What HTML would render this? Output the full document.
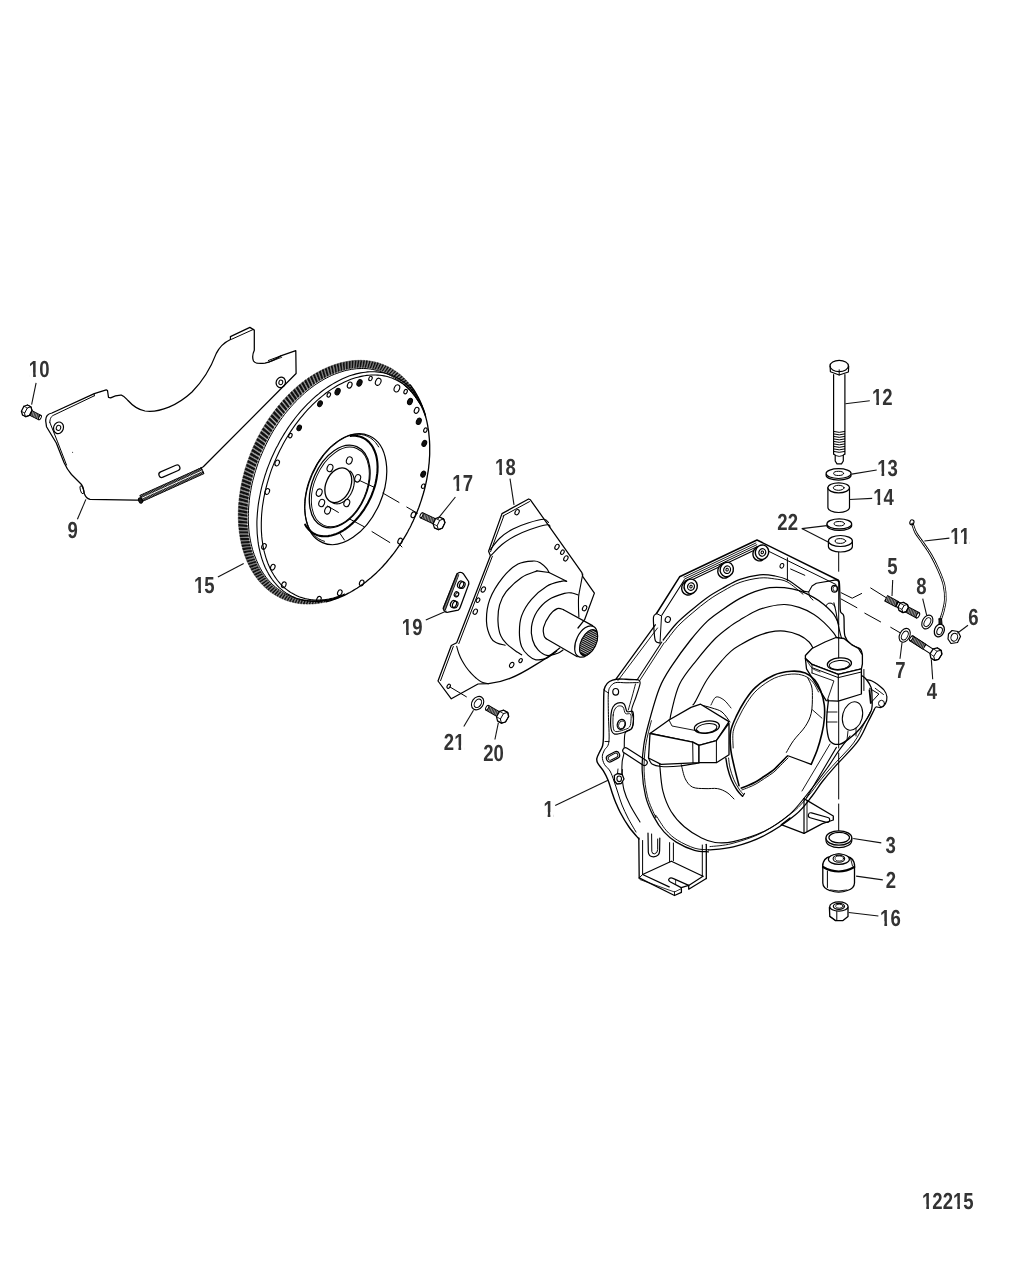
<!DOCTYPE html>
<html><head><meta charset="utf-8"><style>
html,body{margin:0;padding:0;background:#fff;}
svg{display:block;}
</style></head><body>
<svg width="1013" height="1275" viewBox="0 0 1013 1275">
<rect width="1013" height="1275" fill="#fff"/>
<g stroke="#000" fill="none" stroke-linejoin="round" stroke-linecap="round">
<path d="M46,423 C45,418 47,414 52,413 L94.3,393.6 L106.2,389.8 L107.5,390.5 L108.5,397.4 L110.6,397.9 C113,396.5 116,395 121.4,395.2 C124,396 126,398.5 128,400.5 C132,405 137,409.5 145,411 C160,413 178,405 192,392 C202,382 210,370 216.3,353.4 C219,348 223,343 230.5,339.5 L230.4,336.6 L249.9,327.4 L254.3,330.1 L254.3,350.2 C252.5,354 252.3,358 253.5,361 C255,363.5 258,364 265,363.2 C270,362 276,359 281.4,355.6 L295.8,350.6 L296.1,373.5 L203.3,466.8 L139.5,500 L135.5,500 L90,499.4 C87,498.5 85.5,497 84.5,494 C83.5,490 83.5,487 81.5,484.5 L71.5,474.5 C68,470.5 66,467 64,462.5 L56.3,443 L46.5,426.7 Z" stroke-width="1.25" fill="none" />
<path d="M49.8,422.3 C50,418 51.5,416 54,415 L94.3,395.8" stroke-width="1.0" fill="none" />
<path d="M49.8,422.3 L57.6,441.9 L66.5,465" stroke-width="1.0" fill="none" />
<line x1="94.3" y1="393.6" x2="94.3" y2="395.8" stroke-width="0.9" />
<line x1="231.5" y1="339.3" x2="253.2" y2="329.5" stroke-width="1.0" />
<line x1="268.4" y1="360.5" x2="281.4" y2="355.6" stroke-width="1.0" />
<path d="M268.4,362.3 L281.8,357.3" stroke-width="0.8" fill="none" />
<ellipse cx="81.9" cy="489.7" rx="1.6" ry="4.2" stroke-width="0.9" fill="none" transform="rotate(-15 81.9 489.7)" />
<ellipse cx="58.5" cy="427.8" rx="4.9" ry="5.9" stroke-width="1.2" fill="none" transform="rotate(20 58.5 427.8)" />
<ellipse cx="58.5" cy="427.8" rx="2.2" ry="2.6" stroke-width="1.0" fill="none" transform="rotate(20 58.5 427.8)" />
<ellipse cx="280.8" cy="382.4" rx="4.6" ry="5.3" stroke-width="1.2" fill="none" transform="rotate(20 280.8 382.4)" />
<ellipse cx="280.8" cy="382.4" rx="1.9" ry="2.3" stroke-width="1.0" fill="none" transform="rotate(20 280.8 382.4)" />
<g transform="rotate(-23.5 169.4 471.2)"><rect x="158.2" y="468.3" width="22.4" height="5.8" rx="2.9" stroke-width="1.2" fill="none"/></g>
<polygon points="140.2,495.3 201.3,467.7 204,473.6 142.9,501.2" stroke-width="1.0" fill="#1a1a1a" />
<line x1="142.3" y1="498" x2="201.9" y2="471" stroke-width="1.0" stroke="#fff"/>
<line x1="141.5" y1="495.3" x2="142.7" y2="496.5" stroke-width="0.45" stroke="#fff"/>
<line x1="143" y1="498.7" x2="144.3" y2="499.9" stroke-width="0.45" stroke="#fff"/>
<line x1="143" y1="494.7" x2="144.2" y2="495.9" stroke-width="0.45" stroke="#fff"/>
<line x1="144.5" y1="498" x2="145.7" y2="499.3" stroke-width="0.45" stroke="#fff"/>
<line x1="144.4" y1="494" x2="145.6" y2="495.2" stroke-width="0.45" stroke="#fff"/>
<line x1="146" y1="497.4" x2="147.2" y2="498.6" stroke-width="0.45" stroke="#fff"/>
<line x1="145.9" y1="493.4" x2="147.1" y2="494.6" stroke-width="0.45" stroke="#fff"/>
<line x1="147.4" y1="496.7" x2="148.6" y2="497.9" stroke-width="0.45" stroke="#fff"/>
<line x1="147.4" y1="492.7" x2="148.6" y2="493.9" stroke-width="0.45" stroke="#fff"/>
<line x1="148.9" y1="496.1" x2="150.1" y2="497.3" stroke-width="0.45" stroke="#fff"/>
<line x1="148.8" y1="492" x2="150" y2="493.3" stroke-width="0.45" stroke="#fff"/>
<line x1="150.3" y1="495.4" x2="151.5" y2="496.6" stroke-width="0.45" stroke="#fff"/>
<line x1="150.3" y1="491.4" x2="151.5" y2="492.6" stroke-width="0.45" stroke="#fff"/>
<line x1="151.8" y1="494.8" x2="153" y2="496" stroke-width="0.45" stroke="#fff"/>
<line x1="151.7" y1="490.7" x2="152.9" y2="491.9" stroke-width="0.45" stroke="#fff"/>
<line x1="153.3" y1="494.1" x2="154.5" y2="495.3" stroke-width="0.45" stroke="#fff"/>
<line x1="153.2" y1="490.1" x2="154.4" y2="491.3" stroke-width="0.45" stroke="#fff"/>
<line x1="154.7" y1="493.4" x2="155.9" y2="494.7" stroke-width="0.45" stroke="#fff"/>
<line x1="154.6" y1="489.4" x2="155.9" y2="490.6" stroke-width="0.45" stroke="#fff"/>
<line x1="156.2" y1="492.8" x2="157.4" y2="494" stroke-width="0.45" stroke="#fff"/>
<line x1="156.1" y1="488.7" x2="157.3" y2="490" stroke-width="0.45" stroke="#fff"/>
<line x1="157.6" y1="492.1" x2="158.8" y2="493.3" stroke-width="0.45" stroke="#fff"/>
<line x1="157.6" y1="488.1" x2="158.8" y2="489.3" stroke-width="0.45" stroke="#fff"/>
<line x1="159.1" y1="491.5" x2="160.3" y2="492.7" stroke-width="0.45" stroke="#fff"/>
<line x1="159" y1="487.4" x2="160.2" y2="488.6" stroke-width="0.45" stroke="#fff"/>
<line x1="160.5" y1="490.8" x2="161.7" y2="492" stroke-width="0.45" stroke="#fff"/>
<line x1="160.5" y1="486.8" x2="161.7" y2="488" stroke-width="0.45" stroke="#fff"/>
<line x1="162" y1="490.1" x2="163.2" y2="491.4" stroke-width="0.45" stroke="#fff"/>
<line x1="161.9" y1="486.1" x2="163.1" y2="487.3" stroke-width="0.45" stroke="#fff"/>
<line x1="163.5" y1="489.5" x2="164.7" y2="490.7" stroke-width="0.45" stroke="#fff"/>
<line x1="163.4" y1="485.5" x2="164.6" y2="486.7" stroke-width="0.45" stroke="#fff"/>
<line x1="164.9" y1="488.8" x2="166.1" y2="490" stroke-width="0.45" stroke="#fff"/>
<line x1="164.9" y1="484.8" x2="166.1" y2="486" stroke-width="0.45" stroke="#fff"/>
<line x1="166.4" y1="488.2" x2="167.6" y2="489.4" stroke-width="0.45" stroke="#fff"/>
<line x1="166.3" y1="484.1" x2="167.5" y2="485.4" stroke-width="0.45" stroke="#fff"/>
<line x1="167.8" y1="487.5" x2="169" y2="488.7" stroke-width="0.45" stroke="#fff"/>
<line x1="167.8" y1="483.5" x2="169" y2="484.7" stroke-width="0.45" stroke="#fff"/>
<line x1="169.3" y1="486.9" x2="170.5" y2="488.1" stroke-width="0.45" stroke="#fff"/>
<line x1="169.2" y1="482.8" x2="170.4" y2="484" stroke-width="0.45" stroke="#fff"/>
<line x1="170.8" y1="486.2" x2="172" y2="487.4" stroke-width="0.45" stroke="#fff"/>
<line x1="170.7" y1="482.2" x2="171.9" y2="483.4" stroke-width="0.45" stroke="#fff"/>
<line x1="172.2" y1="485.5" x2="173.4" y2="486.7" stroke-width="0.45" stroke="#fff"/>
<line x1="172.1" y1="481.5" x2="173.3" y2="482.7" stroke-width="0.45" stroke="#fff"/>
<line x1="173.7" y1="484.9" x2="174.9" y2="486.1" stroke-width="0.45" stroke="#fff"/>
<line x1="173.6" y1="480.8" x2="174.8" y2="482.1" stroke-width="0.45" stroke="#fff"/>
<line x1="175.1" y1="484.2" x2="176.3" y2="485.4" stroke-width="0.45" stroke="#fff"/>
<line x1="175.1" y1="480.2" x2="176.3" y2="481.4" stroke-width="0.45" stroke="#fff"/>
<line x1="176.6" y1="483.6" x2="177.8" y2="484.8" stroke-width="0.45" stroke="#fff"/>
<line x1="176.5" y1="479.5" x2="177.7" y2="480.7" stroke-width="0.45" stroke="#fff"/>
<line x1="178" y1="482.9" x2="179.2" y2="484.1" stroke-width="0.45" stroke="#fff"/>
<line x1="178" y1="478.9" x2="179.2" y2="480.1" stroke-width="0.45" stroke="#fff"/>
<line x1="179.5" y1="482.2" x2="180.7" y2="483.5" stroke-width="0.45" stroke="#fff"/>
<line x1="179.4" y1="478.2" x2="180.6" y2="479.4" stroke-width="0.45" stroke="#fff"/>
<line x1="181" y1="481.6" x2="182.2" y2="482.8" stroke-width="0.45" stroke="#fff"/>
<line x1="180.9" y1="477.6" x2="182.1" y2="478.8" stroke-width="0.45" stroke="#fff"/>
<line x1="182.4" y1="480.9" x2="183.6" y2="482.1" stroke-width="0.45" stroke="#fff"/>
<line x1="182.4" y1="476.9" x2="183.6" y2="478.1" stroke-width="0.45" stroke="#fff"/>
<line x1="183.9" y1="480.3" x2="185.1" y2="481.5" stroke-width="0.45" stroke="#fff"/>
<line x1="183.8" y1="476.2" x2="185" y2="477.4" stroke-width="0.45" stroke="#fff"/>
<line x1="185.3" y1="479.6" x2="186.5" y2="480.8" stroke-width="0.45" stroke="#fff"/>
<line x1="185.3" y1="475.6" x2="186.5" y2="476.8" stroke-width="0.45" stroke="#fff"/>
<line x1="186.8" y1="478.9" x2="188" y2="480.2" stroke-width="0.45" stroke="#fff"/>
<line x1="186.7" y1="474.9" x2="187.9" y2="476.1" stroke-width="0.45" stroke="#fff"/>
<line x1="188.2" y1="478.3" x2="189.5" y2="479.5" stroke-width="0.45" stroke="#fff"/>
<line x1="188.2" y1="474.3" x2="189.4" y2="475.5" stroke-width="0.45" stroke="#fff"/>
<line x1="189.7" y1="477.6" x2="190.9" y2="478.8" stroke-width="0.45" stroke="#fff"/>
<line x1="189.6" y1="473.6" x2="190.8" y2="474.8" stroke-width="0.45" stroke="#fff"/>
<line x1="191.2" y1="477" x2="192.4" y2="478.2" stroke-width="0.45" stroke="#fff"/>
<line x1="191.1" y1="472.9" x2="192.3" y2="474.2" stroke-width="0.45" stroke="#fff"/>
<line x1="192.6" y1="476.3" x2="193.8" y2="477.5" stroke-width="0.45" stroke="#fff"/>
<line x1="192.6" y1="472.3" x2="193.8" y2="473.5" stroke-width="0.45" stroke="#fff"/>
<line x1="194.1" y1="475.7" x2="195.3" y2="476.9" stroke-width="0.45" stroke="#fff"/>
<line x1="194" y1="471.6" x2="195.2" y2="472.8" stroke-width="0.45" stroke="#fff"/>
<line x1="195.5" y1="475" x2="196.7" y2="476.2" stroke-width="0.45" stroke="#fff"/>
<line x1="195.5" y1="471" x2="196.7" y2="472.2" stroke-width="0.45" stroke="#fff"/>
<line x1="197" y1="474.3" x2="198.2" y2="475.5" stroke-width="0.45" stroke="#fff"/>
<line x1="196.9" y1="470.3" x2="198.1" y2="471.5" stroke-width="0.45" stroke="#fff"/>
<line x1="198.5" y1="473.7" x2="199.7" y2="474.9" stroke-width="0.45" stroke="#fff"/>
<line x1="198.4" y1="469.6" x2="199.6" y2="470.9" stroke-width="0.45" stroke="#fff"/>
<line x1="199.9" y1="473" x2="201.1" y2="474.2" stroke-width="0.45" stroke="#fff"/>
<line x1="199.8" y1="469" x2="201.1" y2="470.2" stroke-width="0.45" stroke="#fff"/>
<line x1="201.4" y1="472.4" x2="202.6" y2="473.6" stroke-width="0.45" stroke="#fff"/>
<ellipse cx="140.5" cy="500.5" rx="1.8" ry="2.8" stroke-width="1.0" fill="#1a1a1a" transform="rotate(-24 140.5 500.5)" />
<circle cx="72.6" cy="452.2" r="0.5" fill="#000" stroke="none"/>
<polygon points="27.3,413.9 38.9,419.8 41.1,415.5 29.5,409.6" stroke-width="1.1" fill="#111" />
<line x1="28.9" y1="414" x2="29.6" y2="410.3" stroke-width="0.55" stroke="#fff"/>
<line x1="30.3" y1="414.7" x2="31.1" y2="411.1" stroke-width="0.55" stroke="#fff"/>
<line x1="31.8" y1="415.5" x2="32.5" y2="411.8" stroke-width="0.55" stroke="#fff"/>
<line x1="33.2" y1="416.2" x2="33.9" y2="412.5" stroke-width="0.55" stroke="#fff"/>
<line x1="34.6" y1="416.9" x2="35.4" y2="413.2" stroke-width="0.55" stroke="#fff"/>
<line x1="36" y1="417.6" x2="36.8" y2="414" stroke-width="0.55" stroke="#fff"/>
<line x1="37.5" y1="418.4" x2="38.2" y2="414.7" stroke-width="0.55" stroke="#fff"/>
<ellipse cx="40" cy="417.6" rx="1.1" ry="2.4" stroke-width="1.0" fill="#fff" transform="rotate(26.9 40 417.6)" />
<polygon points="21.4,411.3 23.9,406.3 27.5,405 30.9,406.7 32,410.4 29.5,415.4 25.9,416.7 22.5,415" stroke-width="1.25" fill="#fff" />
<polygon points="25.8,416.7 29.5,415.4 32,410.4 30.9,406.7 27.3,408 24.7,413" stroke-width="1.0" fill="none" />
<line x1="25.8" y1="416.7" x2="22.5" y2="415" stroke-width="0.8" />
<line x1="30.9" y1="406.7" x2="27.5" y2="405" stroke-width="0.8" />
<line x1="27.3" y1="408" x2="23.9" y2="406.3" stroke-width="0.8" />
<line x1="24.7" y1="413" x2="21.4" y2="411.3" stroke-width="0.8" />
<path d="M334.2,599.4L332.5,600L333.5,599L335.2,598.6ZM331.2,600.4L329.4,601L330.5,599.7L332.1,599.3ZM328.2,601.3L326.4,601.8L327.4,600.2L329,599.9ZM325.2,602L323.4,602.4L324.4,600.6L326,600.4ZM322.2,602.7L320.5,603L321.4,600.9L323,600.7ZM319.3,603.2L317.5,603.4L318.4,601.1L320,601ZM316.3,603.6L314.5,603.8L315.5,601.2L317.1,601.1ZM313.3,603.9L311.6,604L312.7,601.2L314.2,601.2ZM310.4,604L308.7,604.1L309.9,601.1L311.4,601.2ZM307.5,604.1L305.8,604L307.1,600.9L308.6,601ZM304.7,604L302.9,603.9L304.3,600.6L305.8,600.8ZM301.8,603.8L300.1,603.6L301.7,600.1L303.1,600.4ZM299,603.5L297.3,603.2L299,599.6L300.5,599.9ZM296.2,603L294.5,602.7L296.5,598.9L297.9,599.3ZM293.5,602.4L291.8,602L294,598.2L295.3,598.6ZM290.8,601.8L289.1,601.3L291.5,597.3L292.9,597.8ZM288.1,601L286.5,600.4L289.1,596.4L290.4,596.9ZM285.5,600.1L283.9,599.4L286.8,595.3L288.1,595.9ZM282.9,599L281.4,598.3L284.5,594.1L285.8,594.8ZM280.4,597.9L278.9,597.1L282.3,592.9L283.5,593.6ZM277.9,596.6L276.4,595.8L280.1,591.5L281.3,592.3ZM275.5,595.2L274.1,594.3L278.1,590.1L279.2,590.9ZM273.2,593.8L271.7,592.8L276,588.6L277.2,589.4ZM270.9,592.2L269.5,591.1L274.1,587L275.2,587.9ZM268.7,590.5L267.3,589.3L272.1,585.3L273.2,586.3ZM266.5,588.7L265.2,587.4L270.3,583.5L271.4,584.5ZM264.4,586.7L263.1,585.5L268.5,581.6L269.5,582.7ZM262.4,584.7L261.1,583.4L266.8,579.7L267.8,580.8ZM260.4,582.6L259.2,581.2L265.2,577.6L266.1,578.8ZM258.5,580.4L257.4,578.9L263.6,575.5L264.5,576.8ZM256.7,578.1L255.6,576.5L262.1,573.3L263,574.6ZM255,575.7L253.9,574.1L260.7,571L261.5,572.4ZM253.3,573.2L252.3,571.5L259.3,568.6L260.1,570ZM251.7,570.6L250.8,568.8L258,566.2L258.8,567.6ZM250.3,567.9L249.3,566.1L256.8,563.7L257.5,565.2ZM248.8,565.1L248,563.3L255.7,561.1L256.4,562.6ZM247.5,562.3L246.7,560.4L254.5,558.4L255.2,560ZM246.3,559.4L245.5,557.4L253.5,555.7L254.1,557.3ZM245.1,556.4L244.4,554.4L252.5,552.9L253.1,554.6ZM244,553.3L243.4,551.2L251.6,550.1L252.1,551.8ZM243,550.2L242.4,548L250.8,547.1L251.2,548.9ZM242.2,546.9L241.6,544.8L250,544.2L250.5,546ZM241.3,543.7L240.9,541.5L249.4,541.1L249.7,542.9ZM240.6,540.3L240.2,538.1L248.8,538L249.1,539.9ZM240,537L239.7,534.7L248.3,534.8L248.6,536.7ZM239.5,533.5L239.2,531.2L247.9,531.6L248.1,533.5ZM239.1,530L238.8,527.7L247.6,528.3L247.7,530.3ZM238.7,526.5L238.5,524.1L247.3,525L247.4,527ZM238.5,522.9L238.4,520.5L247.2,521.6L247.2,523.6ZM238.3,519.3L238.3,516.8L247.1,518.2L247.1,520.3ZM238.3,515.6L238.3,513.1L247.1,514.7L247.1,516.8ZM238.3,511.9L238.4,509.4L247.3,511.3L247.2,513.4ZM238.4,508.2L238.6,505.7L247.4,507.7L247.3,509.9ZM238.6,504.4L238.9,501.9L247.7,504.2L247.5,506.4ZM239,500.6L239.2,498.1L248,500.6L247.8,502.8ZM239.4,496.9L239.7,494.3L248.5,497.1L248.2,499.3ZM239.9,493L240.3,490.5L249,493.5L248.7,495.7ZM240.5,489.2L240.9,486.6L249.6,489.9L249.2,492.1ZM241.2,485.4L241.7,482.8L250.3,486.2L249.9,488.5ZM242,481.6L242.5,479L251.1,482.6L250.6,484.9ZM242.8,477.8L243.5,475.2L252,479L251.4,481.2ZM243.8,473.9L244.5,471.3L252.9,475.4L252.3,477.6ZM244.8,470.1L245.6,467.5L253.9,471.8L253.3,474ZM246,466.3L246.8,463.7L255.1,468.2L254.4,470.4ZM247.2,462.5L248.1,460L256.3,464.6L255.5,466.8ZM248.5,458.8L249.5,456.2L257.6,461L256.8,463.2ZM249.9,455L250.9,452.5L258.9,457.5L258.1,459.7ZM251.4,451.3L252.5,448.8L260.4,454L259.5,456.1ZM253,447.6L254.1,445.1L261.9,450.5L260.9,452.6ZM254.6,444L255.8,441.5L263.5,447L262.5,449.2ZM256.3,440.3L257.5,437.9L265.1,443.6L264.1,445.7ZM258.1,436.8L259.4,434.4L266.8,440.2L265.7,442.3ZM260,433.2L261.3,430.9L268.5,436.8L267.4,438.9ZM261.9,429.8L263.3,427.4L270.4,433.5L269.2,435.5ZM264,426.3L265.4,424L272.3,430.2L271.1,432.3ZM266,423L267.5,420.7L274.2,427L273,429ZM268.2,419.6L269.7,417.4L276.3,423.9L275,425.8ZM270.4,416.4L272,414.2L278.4,420.8L277.1,422.7ZM272.7,413.2L274.3,411.1L280.5,417.8L279.2,419.6ZM275,410.1L276.7,408L282.7,414.8L281.3,416.6ZM277.4,407L279.1,405L285,411.9L283.6,413.7ZM279.9,404L281.6,402.1L287.3,409.1L285.9,410.8ZM282.4,401.1L284.1,399.2L289.6,406.4L288.2,408.1ZM285,398.3L286.7,396.5L292,403.7L290.6,405.3ZM287.6,395.6L289.3,393.8L294.5,401.1L293,402.7ZM290.2,392.9L292,391.2L297,398.6L295.4,400.2ZM292.9,390.4L294.8,388.7L299.5,396.2L297.9,397.7ZM295.7,387.9L297.5,386.3L302,393.9L300.4,395.3ZM298.4,385.5L300.3,384L304.6,391.6L303,393ZM301.2,383.2L303.1,381.8L307.2,389.4L305.6,390.7ZM304.1,381.1L306,379.6L309.8,387.4L308.2,388.6ZM307,379L308.9,377.6L312.4,385.4L310.8,386.6ZM309.9,377L311.8,375.7L315.1,383.5L313.5,384.6ZM312.8,375.1L314.7,373.9L317.8,381.7L316.2,382.8ZM315.7,373.3L317.7,372.2L320.5,380.1L318.9,381.1ZM318.7,371.7L320.7,370.6L323.2,378.5L321.6,379.4ZM321.7,370.1L323.6,369.1L325.9,377L324.3,377.9ZM324.7,368.7L326.6,367.8L328.7,375.6L327,376.4ZM327.7,367.3L329.6,366.5L331.4,374.4L329.8,375.1ZM330.7,366.1L332.6,365.4L334.1,373.2L332.5,373.9ZM333.7,365L335.6,364.3L336.9,372.2L335.3,372.8ZM336.7,364L338.6,363.4L339.6,371.2L338,371.8ZM339.7,363.1L341.6,362.6L342.3,370.4L340.7,370.9ZM342.7,362.4L344.6,361.9L345,369.7L343.4,370.1ZM345.7,361.7L347.6,361.4L347.7,369L346.1,369.4ZM348.7,361.2L350.6,360.9L350.4,368.5L348.8,368.8ZM351.6,360.8L353.5,360.6L353,368.1L351.5,368.3ZM354.6,360.5L356.5,360.4L355.7,367.8L354.2,368ZM357.5,360.4L359.4,360.3L358.3,367.6L356.8,367.7ZM360.4,360.3L362.3,360.4L360.9,367.5L359.4,367.6ZM363.3,360.4L365.1,360.5L363.5,367.5L362,367.5ZM366.2,360.6L367.9,360.8L366,367.7L364.6,367.6ZM369,360.9L370.7,361.2L368.5,367.9L367.1,367.7ZM371.8,361.4L373.5,361.7L371,368.2L369.6,368ZM374.5,361.9L376.2,362.4L373.5,368.7L372.1,368.4ZM377.2,362.6L378.9,363.1L375.9,369.2L374.5,368.9ZM379.9,363.4L381.5,364L378.3,369.8L376.9,369.5ZM382.5,364.3L384.1,365L380.7,370.5L379.4,370.1ZM385.1,365.4L386.6,366.1L383,371.3L381.7,370.8ZM387.6,366.5L389.1,367.3L385.4,372.2L384.1,371.7ZM390.1,367.8L391.6,368.6L387.7,373.2L386.4,372.6ZM392.5,369.2L393.9,370.1L389.9,374.3L388.7,373.7ZM394.8,370.7L396.2,371.6L392.1,375.5L390.9,374.9ZM397.1,372.3L398.5,373.3L394.3,376.9L393.1,376.1ZM399.4,374L400.7,375.1L396.5,378.3L395.3,377.5ZM401.5,375.8L402.8,376.9L398.6,379.8L397.5,379ZM403.6,377.7L404.9,378.9L400.8,381.3L399.6,380.5ZM405.7,379.7L406.8,381L402.9,383L401.7,382.1ZM407.6,381.8L408.8,383.2L404.9,384.9L403.8,383.9ZM409.5,384.1L410.6,385.4L406.9,386.8L405.8,385.7ZM411.3,386.4L412.4,387.8L408.8,388.8L407.8,387.7ZM413.1,388.8L414.1,390.3L410.8,391L409.7,389.8ZM414.7,391.3L415.7,392.8L412.7,393.2L411.7,392ZM416.3,393.9L417.2,395.5L414.5,395.5L413.5,394.3ZM417.8,396.6L418.6,398.2L416.2,398L415.3,396.6ZM419.2,399.4L420,401L417.9,400.5L417,399.2ZM420.5,402.2L421.3,403.9L419.6,403.2L418.7,401.8ZM421.8,405.1L422.5,406.9L421.3,405.8L420.4,404.4Z" fill="#111" stroke="#111" stroke-width="0.5"/>
<polyline points="339.4,597.5 336.4,598.3 333.5,598.9 330.6,599.5 327.8,600 324.9,600.3 322.1,600.6 319.4,600.7 316.7,600.8 314,600.9 311.3,600.8 308.7,600.6 306.2,600.4 303.7,600 301.2,599.5 298.8,599 296.4,598.4 294.1,597.6 291.9,596.8 289.6,595.9 287.5,594.9 285.4,593.8 283.4,592.7 281.4,591.4 279.5,590.1 277.6,588.7 275.7,587.3 274,585.8 272.2,584.2 270.6,582.5 269,580.8 267.4,579 265.9,577.1 264.5,575.1 263.1,573.1 261.8,571 260.6,568.8 259.4,566.6 258.3,564.3 257.2,561.9 256.2,559.5 255.2,557 254.2,554.5 253.3,551.9 252.5,549.3 251.8,546.5 251.1,543.8 250.5,540.9 250,538.1 249.5,535.1 249.1,532.2 248.8,529.2 248.6,526.1 248.4,523 248.3,519.9 248.3,516.7 248.4,513.5 248.5,510.3 248.7,507 249,503.7 249.3,500.4 249.7,497.1 250.2,493.8 250.8,490.5 251.4,487.1 252.1,483.8 252.9,480.4 253.8,477.1 254.7,473.7 255.7,470.4 256.8,467 257.9,463.7 259.1,460.4 260.4,457.2 261.8,453.9 263.2,450.7 264.6,447.5 266.1,444.3 267.7,441.1 269.3,438 271,434.9 272.7,431.9 274.5,428.9 276.4,426 278.3,423.1 280.3,420.2 282.3,417.5 284.3,414.7 286.4,412.1 288.6,409.5 290.8,406.9 293,404.5 295.2,402.1 297.5,399.8 299.8,397.5 302.2,395.3 304.5,393.2 306.9,391.1 309.3,389.2 311.8,387.3 314.2,385.5 316.7,383.8 319.2,382.2 321.7,380.7 324.2,379.2 326.7,377.9 329.2,376.6 331.7,375.4 334.3,374.3 336.8,373.4 339.3,372.5 341.8,371.7 344.3,370.9 346.8,370.3 349.2,369.8 351.7,369.3 354.1,369 356.6,368.7 359,368.6 361.3,368.5 363.7,368.5 366,368.6 368.4,368.8 370.6,369.1 372.9,369.5 375.1,370 377.4,370.5 379.6,371.1 381.7,371.8 383.9,372.5 386,373.4 388.1,374.3 390.2,375.4 392.3,376.5 394.3,377.7 396.3,379 398.3,380.4 400.3,381.8 402.3,383.3 404.2,385 406.1,386.7 407.9,388.6 409.8,390.5 411.6,392.5 413.3,394.6 415,396.8 416.7,399.1 418.3,401.5 419.9,403.9 421.6,406.4 423.3,409" stroke-width="1.0" fill="none" />
<polyline points="410.3,385 411.4,386.4 412.4,387.9 413.5,389.4 414.5,390.9 415.5,392.5 416.4,394.1 417.3,395.7 418.2,397.4 419.1,399.1 419.9,400.8 420.7,402.6 421.5,404.4 422.2,406.2 422.9,408 423.6,409.9 424.2,411.8 424.8,413.7 425.4,415.6 425.9,417.6 426.4,419.6 426.9,421.6 427.3,423.7 427.7,425.7 428,427.8 428.4,429.9 428.7,432.1 428.9,434.2 429.1,436.4 429.3,438.5 429.5,440.7 429.6,442.9 429.7,445.1 429.7,447.4 429.7,449.6 429.7,451.9 429.7,454.2 429.6,456.4 429.4,458.7 429.3,461 429.1,463.3 428.8,465.7 428.6,468 428.3,470.3 427.9,472.6 427.5,475 427.1,477.3 426.7,479.6 426.2,482 425.7,484.3 425.2,486.7 424.6,489 424,491.3 423.3,493.7 422.6,496 421.9,498.3 421.2,500.6 420.4,502.9 419.6,505.2 418.8,507.5 417.9,509.8 417,512.1 416.1,514.4 415.1,516.6 414.1,518.8 413.1,521.1 412,523.3 411,525.5 409.9,527.7 408.7,529.8 407.6,532 406.4,534.1 405.2,536.2 403.9,538.3 402.6,540.3 401.4,542.4 400,544.4 398.7,546.4 397.3,548.4 395.9,550.3 394.5,552.3 393.1,554.2 391.6,556 390.1,557.9 388.6,559.7 387.1,561.5 385.6,563.3 384,565 382.5,566.7 380.9,568.4 379.3,570 377.6,571.6 376,573.2 374.3,574.7 372.6,576.2 371,577.7 369.3,579.1 367.5,580.5 365.8,581.9 364.1,583.2 362.3,584.5 360.6,585.8 358.8,587 357,588.2 355.2,589.3 353.4,590.4 351.6,591.5 349.8,592.5 348,593.4 346.2,594.4 344.3,595.3 342.5,596.1 340.7,596.9 338.9,597.7 337,598.4 335.2,599.1 333.3,599.7 331.5,600.3 329.7,600.9 327.8,601.4 326,601.9" stroke-width="1.3" fill="none" />
<polyline points="342.4,595.4 340,596.4 337.7,597.3 335.3,598.1 333,598.8 330.6,599.4 328.3,600 326,600.4 323.7,600.8 321.4,601.1 319.1,601.3 316.9,601.4 314.6,601.4 312.4,601.4 310.2,601.3 308,601 305.9,600.7 303.8,600.4 301.7,599.9 299.6,599.3 297.6,598.7 295.6,598 293.7,597.1 291.8,596.3 289.9,595.3 288.1,594.2 286.3,593.1 284.5,591.9 282.8,590.6 281.1,589.2 279.5,587.8 278,586.3 276.4,584.7 275,583 273.6,581.3 272.2,579.5 270.9,577.6 269.6,575.6 268.4,573.6 267.3,571.6 266.2,569.4 265.1,567.2 264.2,565 263.2,562.6 262.4,560.3 261.6,557.8 260.9,555.3 260.2,552.8 259.6,550.2 259,547.6 258.5,544.9 258.1,542.2 257.8,539.4 257.5,536.6 257.2,533.8 257.1,530.9 257,528 256.9,525.1 256.9,522.1 257,519.1 257.2,516.1 257.4,513.1 257.7,510 258,507 258.4,503.9 258.9,500.8 259.5,497.6 260.1,494.5 260.7,491.4 261.4,488.3 262.2,485.1 263.1,482 264,478.9 264.9,475.8 266,472.6 267,469.5 268.2,466.4 269.4,463.4 270.6,460.3 271.9,457.3 273.3,454.3 274.7,451.3 276.1,448.3 277.7,445.4 279.2,442.5 280.8,439.6 282.5,436.7 284.2,433.9 285.9,431.2 287.7,428.4 289.5,425.8 291.4,423.1 293.3,420.6 295.2,418 297.2,415.5 299.2,413.1 301.3,410.7 303.4,408.4 305.5,406.1 307.6,403.9 309.8,401.8 312,399.7 314.2,397.7 316.4,395.7 318.7,393.9 320.9,392 323.2,390.3 325.5,388.6 327.9,387 330.2,385.5 332.5,384.1 334.9,382.7 337.2,381.4 339.6,380.2 342,379 344.3,378 346.7,377 349,376.1 351.4,375.3 353.7,374.6 356.1,373.9 358.4,373.4 360.7,372.9 363.1,372.5 365.4,372.2 367.6,371.9 369.9,371.8 372.1,371.8 374.4,371.8 376.6,371.9 378.7,372.1 380.9,372.4 383,372.8 385.1,373.2 387.2,373.8 389.2,374.4 391.2,375.1 393.1,375.9 395.1,376.8 396.9,377.7 398.8,378.7 400.6,379.9 402.3,381.1 404.1,382.3 405.7,383.7 407.4,385.1 408.9,386.6 410.5,388.2 411.9,389.9 413.4,391.6 414.7,393.4 416.1,395.2 417.3,397.2 418.6,399.2 419.7,401.2 420.8,403.4 421.9,405.5 422.8,407.8 423.8,410.1 424.6,412.5 425.5,414.9" stroke-width="1.1" fill="none" />
<polyline points="344.8,594 342.5,595 340.2,595.8 337.9,596.6 335.7,597.3 333.4,598 331.1,598.5 328.8,599 326.6,599.4 324.3,599.7 322.1,599.9 319.9,600 317.7,600 315.6,600 313.4,599.9 311.3,599.7 309.2,599.4 307.1,599 305.1,598.6 303.1,598 301.1,597.4 299.2,596.7 297.3,595.9 295.4,595.1 293.6,594.1 291.8,593.1 290,592 288.3,590.8 286.7,589.6 285,588.3 283.5,586.8 281.9,585.4 280.4,583.8 279,582.2 277.6,580.5 276.3,578.7 275,576.9 273.8,575 272.6,573 271.4,571 270.4,568.9 269.4,566.8 268.4,564.6 267.5,562.3 266.7,560 265.9,557.6 265.2,555.2 264.5,552.7 263.9,550.2 263.4,547.6 262.9,545 262.5,542.3 262.1,539.6 261.8,536.9 261.6,534.1 261.4,531.3 261.3,528.5 261.3,525.6 261.3,522.7 261.4,519.8 261.5,516.8 261.7,513.8 262,510.8 262.3,507.8 262.7,504.8 263.2,501.8 263.7,498.7 264.3,495.7 264.9,492.6 265.6,489.5 266.4,486.5 267.2,483.4 268.1,480.3 269,477.3 270,474.2 271,471.2 272.1,468.1 273.3,465.1 274.5,462.1 275.8,459.1 277.1,456.2 278.5,453.3 279.9,450.3 281.4,447.5 282.9,444.6 284.4,441.8 286,439 287.7,436.2 289.4,433.5 291.1,430.9 292.9,428.2 294.7,425.6 296.6,423.1 298.5,420.6 300.4,418.2 302.4,415.8 304.4,413.4 306.4,411.2 308.4,408.9 310.5,406.8 312.6,404.7 314.8,402.6 316.9,400.6 319.1,398.7 321.3,396.9 323.5,395.1 325.7,393.3 328,391.7 330.2,390.1 332.5,388.6 334.8,387.2 337.1,385.8 339.4,384.6 341.7,383.4 344,382.2 346.3,381.2 348.6,380.2 350.9,379.3 353.2,378.5 355.5,377.8 357.8,377.2 360.1,376.6 362.3,376.1 364.6,375.7 366.8,375.4 369,375.2 371.2,375 373.4,375 375.6,375 377.8,375.1 379.9,375.3 382,375.5 384,375.9 386.1,376.3 388.1,376.8 390.1,377.5 392,378.1 393.9,378.9 395.8,379.7 397.7,380.7 399.5,381.7 401.2,382.8 402.9,383.9 404.6,385.2 406.2,386.5 407.8,387.9 409.4,389.3 410.9,390.9 412.3,392.5 413.7,394.2 415.1,395.9 416.4,397.7 417.6,399.6 418.8,401.6 419.9,403.6 421,405.6 422,407.8 423,410 423.9,412.2 424.8,414.5 425.6,416.9" stroke-width="1.1" fill="none" />
<ellipse cx="277.2" cy="463" rx="2.1" ry="3" stroke-width="1.1" fill="none" transform="rotate(24 277.2 463)" />
<ellipse cx="267.3" cy="491.5" rx="2.1" ry="3" stroke-width="1.1" fill="none" transform="rotate(24 267.3 491.5)" />
<ellipse cx="264" cy="546.4" rx="2.1" ry="3" stroke-width="1.1" fill="none" transform="rotate(24 264 546.4)" />
<ellipse cx="272.8" cy="567.2" rx="2.1" ry="3" stroke-width="1.1" fill="none" transform="rotate(24 272.8 567.2)" />
<ellipse cx="283.8" cy="584.8" rx="2.1" ry="3" stroke-width="1.1" fill="none" transform="rotate(24 283.8 584.8)" />
<ellipse cx="318.9" cy="599.3" rx="2.1" ry="3" stroke-width="1.1" fill="none" transform="rotate(24 318.9 599.3)" />
<ellipse cx="339.8" cy="592.7" rx="2.1" ry="3" stroke-width="1.1" fill="none" transform="rotate(24 339.8 592.7)" />
<ellipse cx="361.7" cy="582.9" rx="2.1" ry="3" stroke-width="1.1" fill="none" transform="rotate(24 361.7 582.9)" />
<ellipse cx="400.1" cy="541.1" rx="2.1" ry="3" stroke-width="1.1" fill="none" transform="rotate(24 400.1 541.1)" />
<ellipse cx="413.3" cy="514.8" rx="2.1" ry="3" stroke-width="1.1" fill="none" transform="rotate(24 413.3 514.8)" />
<ellipse cx="423.2" cy="486.2" rx="1.6" ry="2.3" stroke-width="1.1" fill="none" transform="rotate(24 423.2 486.2)" />
<ellipse cx="423.2" cy="474.1" rx="2.2" ry="3.2" stroke-width="1.0" fill="#111" transform="rotate(24 423.2 474.1)" />
<ellipse cx="424.3" cy="443.3" rx="2.2" ry="3.2" stroke-width="1.0" fill="#111" transform="rotate(24 424.3 443.3)" />
<ellipse cx="425.4" cy="430.1" rx="1.6" ry="2.3" stroke-width="1.1" fill="none" transform="rotate(24 425.4 430.1)" />
<ellipse cx="418.8" cy="421.3" rx="2.3" ry="3.3" stroke-width="1.0" fill="#111" transform="rotate(24 418.8 421.3)" />
<ellipse cx="416.6" cy="410.3" rx="2.2" ry="3.1" stroke-width="1.1" fill="none" transform="rotate(24 416.6 410.3)" />
<ellipse cx="410" cy="401.5" rx="2.3" ry="3.3" stroke-width="1.0" fill="#111" transform="rotate(24 410 401.5)" />
<ellipse cx="405.6" cy="391.6" rx="1.6" ry="2.3" stroke-width="1.1" fill="none" transform="rotate(24 405.6 391.6)" />
<ellipse cx="396.9" cy="388.4" rx="2.6" ry="3.7" stroke-width="1.1" fill="none" transform="rotate(24 396.9 388.4)" />
<ellipse cx="378.2" cy="381.8" rx="2.6" ry="3.7" stroke-width="1.1" fill="none" transform="rotate(24 378.2 381.8)" />
<ellipse cx="370.5" cy="378.5" rx="1.6" ry="2.3" stroke-width="1.1" fill="none" transform="rotate(24 370.5 378.5)" />
<ellipse cx="359.5" cy="382.9" rx="2.4" ry="3.4" stroke-width="1.0" fill="#111" transform="rotate(24 359.5 382.9)" />
<ellipse cx="349.7" cy="385.1" rx="2.2" ry="3.1" stroke-width="1.1" fill="none" transform="rotate(24 349.7 385.1)" />
<ellipse cx="337.6" cy="391.6" rx="2.4" ry="3.4" stroke-width="1.0" fill="#111" transform="rotate(24 337.6 391.6)" />
<ellipse cx="328.8" cy="394.9" rx="1.6" ry="2.3" stroke-width="1.1" fill="none" transform="rotate(24 328.8 394.9)" />
<ellipse cx="320" cy="403.7" rx="2.2" ry="3.1" stroke-width="1.0" fill="#111" transform="rotate(24 320 403.7)" />
<ellipse cx="299.2" cy="427.9" rx="2.1" ry="3" stroke-width="1.0" fill="#111" transform="rotate(24 299.2 427.9)" />
<ellipse cx="290.4" cy="435.6" rx="1.6" ry="2.3" stroke-width="1.1" fill="none" transform="rotate(24 290.4 435.6)" />
<ellipse cx="345.8" cy="489.2" rx="36.7" ry="58.3" stroke-width="1.2" fill="none" transform="rotate(23.6 345.8 489.2)" />
<polyline points="324.5,541.3 322.9,540.8 321.4,540.2 320,539.5 318.5,538.6 317.2,537.7 315.9,536.7 314.7,535.6 313.5,534.3 312.4,533 311.3,531.6 310.3,530 309.4,528.4 308.6,526.8 307.8,525 307.2,523.1 306.6,521.2 306,519.2 305.6,517.2 305.2,515.1 305,512.9 304.8,510.7 304.6,508.4 304.6,506.1 304.7,503.7 304.8,501.3 305,498.9 305.3,496.5 305.7,494.1 306.2,491.6 306.7,489.1 307.3,486.6 308,484.2 308.8,481.7 309.7,479.3 310.6,476.8 311.6,474.4 312.6,472.1 313.8,469.7 315,467.4 316.2,465.2 317.5,463 318.9,460.8 320.3,458.7 321.8,456.7 323.3,454.7 324.9,452.8 326.5,451 328.1,449.2 329.8,447.5 331.5,446 333.2,444.5 335,443.1 336.8,441.8 338.6,440.6 340.4,439.4 342.2,438.4 344,437.5 345.8,436.7 347.6,436 349.4,435.5 351.2,435 353,434.6 354.8,434.4 356.5,434.3 358.3,434.3 359.9,434.3 361.6,434.6 363.2,434.9 364.8,435.3 366.3,435.9 367.8,436.5 369.3,437.3 370.6,438.1 372,439.1 373.2,440.2 374.5,441.4 375.6,442.6 376.7,444 377.7,445.5 378.7,447" stroke-width="1.0" fill="none" />
<polyline points="350.5,435.9 352.1,435.7 353.6,435.7 355.2,435.8 356.7,435.9 358.1,436.2 359.6,436.6 361,437 362.3,437.5 363.6,438.2 364.9,438.9 366.1,439.7 367.3,440.6 368.4,441.6 369.4,442.6 370.4,443.8 371.4,445 372.3,446.3 373.1,447.7 373.8,449.2 374.5,450.7 375.1,452.3 375.7,453.9 376.2,455.6 376.6,457.4 376.9,459.2 377.2,461.1 377.4,463 377.5,465 377.6,467 377.5,469 377.5,471.1 377.3,473.2 377,475.3 376.7,477.5 376.4,479.6 375.9,481.8 375.4,484 374.8,486.2 374.1,488.3 373.4,490.5 372.6,492.7 371.8,494.9 370.9,497 369.9,499.1 368.8,501.2 367.8,503.3 366.6,505.3 365.4,507.3 364.2,509.3 362.9,511.2 361.5,513 360.2,514.9 358.7,516.6 357.3,518.3 355.8,520 354.3,521.5 352.7,523.1 351.1,524.5 349.5,525.9 347.9,527.2 346.3,528.4 344.6,529.5 343,530.6 341.3,531.5 339.6,532.4 338,533.2 336.3,533.9 334.6,534.5 332.9,535.1 331.3,535.5 329.7,535.8 328.1,536.1 326.5,536.2 324.9,536.3 323.3,536.3 321.8,536.1 320.3,535.9 318.9,535.6 317.5,535.2 316.1,534.6 314.8,534 313.5,533.3 312.3,532.6 311.1,531.7 310,530.7 308.9,529.7 307.9,528.6 306.9,527.4 306,526.1 305.2,524.7" stroke-width="2.1" fill="none" />
<ellipse cx="339.7" cy="486.5" rx="27.3" ry="43.4" stroke-width="1.3" fill="none" transform="rotate(23.2 339.7 486.5)" />
<ellipse cx="340.3" cy="486.9" rx="25.9" ry="41.8" stroke-width="0.9" fill="none" transform="rotate(23.2 340.3 486.9)" />
<ellipse cx="338.3" cy="485.2" rx="12.3" ry="18.2" stroke-width="1.3" fill="none" transform="rotate(24 338.3 485.2)" />
<polyline points="350,471 350.8,471.6 351.4,472.4 352,473.2 352.6,474.1 353,475 353.4,476 353.7,477.1 354,478.3 354.1,479.5 354.2,480.7 354.3,482 354.2,483.3 354,484.6 353.8,485.9 353.5,487.2 353.2,488.5 352.7,489.8 352.2,491.1 351.6,492.4 351,493.6 350.3,494.8 349.5,496 348.7,497 347.9,498.1 347,499 346,499.9 345.1,500.7 344.1,501.4 343.1,502.1 342.1,502.6 341,503 340,503.4 339,503.7 338,503.8 337,503.9 336,503.8 335.1,503.7 334.1,503.4 333.3,503.1 332.4,502.6" stroke-width="1.1" fill="none" />
<ellipse cx="349.3" cy="460.5" rx="2.8" ry="3.8" stroke-width="1.1" fill="none" transform="rotate(20 349.3 460.5)" />
<ellipse cx="330" cy="468" rx="2.8" ry="3.8" stroke-width="1.1" fill="none" transform="rotate(20 330 468)" />
<ellipse cx="357.7" cy="478.3" rx="2.8" ry="3.8" stroke-width="1.1" fill="none" transform="rotate(20 357.7 478.3)" />
<ellipse cx="319.2" cy="492.6" rx="2.8" ry="3.8" stroke-width="1.1" fill="none" transform="rotate(20 319.2 492.6)" />
<ellipse cx="321.7" cy="503" rx="2.8" ry="3.8" stroke-width="1.1" fill="none" transform="rotate(20 321.7 503)" />
<ellipse cx="346.8" cy="503" rx="2.8" ry="3.8" stroke-width="1.1" fill="none" transform="rotate(20 346.8 503)" />
<ellipse cx="327.6" cy="510.4" rx="2.8" ry="3.8" stroke-width="1.1" fill="none" transform="rotate(20 327.6 510.4)" />
<line x1="339.4" y1="532.6" x2="344.4" y2="540" stroke-width="1.0" />
<line x1="349.3" y1="518.8" x2="364.1" y2="526.7" stroke-width="1.0" />
<line x1="359.2" y1="480.3" x2="374" y2="487.2" stroke-width="1.0" />
<line x1="382.9" y1="493.1" x2="399" y2="502.4" stroke-width="1.0" />
<line x1="372" y1="531.6" x2="389.8" y2="542.5" stroke-width="1.0" />
<line x1="327.6" y1="506" x2="338.4" y2="512.4" stroke-width="1.0" />
<line x1="406.8" y1="507.1" x2="417.5" y2="513.2" stroke-width="1.0" />
<line x1="398" y1="543" x2="402" y2="547" stroke-width="1.0" />
<polygon points="438.1,520 422.6,512.8 420.4,517.7 435.8,524.9" stroke-width="1.1" fill="#111" />
<line x1="436.4" y1="519.9" x2="435.6" y2="524" stroke-width="0.55" stroke="#fff"/>
<line x1="435" y1="519.3" x2="434.2" y2="523.4" stroke-width="0.55" stroke="#fff"/>
<line x1="433.5" y1="518.6" x2="432.7" y2="522.7" stroke-width="0.55" stroke="#fff"/>
<line x1="432.1" y1="517.9" x2="431.3" y2="522" stroke-width="0.55" stroke="#fff"/>
<line x1="430.6" y1="517.3" x2="429.8" y2="521.3" stroke-width="0.55" stroke="#fff"/>
<line x1="429.1" y1="516.6" x2="428.4" y2="520.7" stroke-width="0.55" stroke="#fff"/>
<line x1="427.7" y1="515.9" x2="426.9" y2="520" stroke-width="0.55" stroke="#fff"/>
<line x1="426.2" y1="515.2" x2="425.4" y2="519.3" stroke-width="0.55" stroke="#fff"/>
<line x1="424.8" y1="514.6" x2="424" y2="518.7" stroke-width="0.55" stroke="#fff"/>
<line x1="423.3" y1="513.9" x2="422.5" y2="518" stroke-width="0.55" stroke="#fff"/>
<ellipse cx="421.5" cy="515.3" rx="1.2" ry="2.7" stroke-width="1.0" fill="#fff" transform="rotate(-155.2 421.5 515.3)" />
<polygon points="433.1,523.9 435.6,518.5 439.4,517 443.5,518.9 444.9,522.8 442.3,528.2 438.5,529.7 434.4,527.9" stroke-width="1.25" fill="#fff" />
<polygon points="443.5,518.9 439.7,520.4 437.1,525.8 438.5,529.7 442.3,528.2 444.9,522.8" stroke-width="1.0" fill="none" />
<line x1="443.5" y1="518.9" x2="439.4" y2="517" stroke-width="0.8" />
<line x1="439.7" y1="520.4" x2="435.6" y2="518.5" stroke-width="0.8" />
<line x1="437.1" y1="525.8" x2="433.1" y2="523.9" stroke-width="0.8" />
<line x1="438.5" y1="529.7" x2="434.4" y2="527.9" stroke-width="0.8" />
<defs><clipPath id="spl"><ellipse cx="588.6" cy="642.6" rx="7" ry="13.4" transform="rotate(26 588.6 642.6)"/></clipPath></defs>
<path d="M502,513.6 L528.6,499 L530.4,499.8 L581.9,572.6 L582.8,576.6 L594.4,593.1 L584.6,619.7 L578,628 M559.7,648.1 C552,654 545,659.5 536.6,664.1 C528,669.5 519,675 510,678.3 C502,681.5 495,683 488.6,683.7 L478,684 L451.3,698.8 L438,681 L451.3,645.5 L456.7,642.8 L490.4,555.7 L488.6,551.3 L502,513.6" stroke-width="1.25" fill="none" />
<line x1="503" y1="516" x2="529.5" y2="501.6" stroke-width="1.0" />
<polyline points="490.6,551.6 503.8,516" stroke-width="1.0" fill="none" />
<polyline points="458.8,643.6 492.4,556.2" stroke-width="1.0" fill="none" />
<polyline points="453.3,646.5 440.6,680.6" stroke-width="1.0" fill="none" />
<path d="M490.4,549.5C492,547.6 496.2,541.4 500,538C503.8,534.6 508.3,531.5 513,529C517.7,526.5 522.9,524.6 528,523C533.1,521.4 540.3,519.4 543.7,519.3C547.1,519.2 547.7,522 548.5,522.5" stroke-width="1.1" fill="none" />
<path d="M491.3,555.2C493.1,553.4 498.1,547.7 502,544.5C505.9,541.3 510.3,538.5 515,536C519.7,533.5 524.6,531.4 530,529.5C535.4,527.6 544,525.2 547.3,524.8C550.6,524.4 549.5,526.6 550,527" stroke-width="1.1" fill="none" />
<path d="M582.8,574C582.4,576 581.2,582.2 580.5,586C579.8,589.8 578.9,593.5 578.6,597C578.3,600.5 578.5,603.7 578.5,607C578.5,610.3 578.8,615.3 578.9,617" stroke-width="1.1" fill="none" />
<path d="M456.7,646.4C457.1,647.7 458.1,651.6 459,654C459.9,656.4 460.8,658.4 462,660.6C463.2,662.8 464.5,664.9 466,667C467.5,669.1 469.2,671.2 470.9,673C472.6,674.8 474.2,676.5 476,678C477.8,679.5 479.4,680.9 481.5,681.9C483.6,682.9 487.4,683.4 488.6,683.7" stroke-width="1.1" fill="none" />
<path d="M549,572.5C548.6,571.9 548.2,570.3 546.8,568.7C545.4,567.1 542.7,564.3 540.5,563C538.3,561.7 537.5,560.8 533.7,561C530,561.2 523.1,561.3 518,564C512.9,566.7 507.6,571.5 502.9,577.4C498.2,583.3 492.5,592.1 489.8,599.4C487.1,606.7 486.3,615 486.5,621.4C486.7,627.8 489.1,634.2 490.9,637.8C492.6,641.4 494.6,641.8 497,643C499.4,644.2 503.8,644.8 505.1,645.2" stroke-width="1.2" fill="none" />
<path d="M537,570.9C534.4,572 526.7,573.9 521.6,577.4C516.5,580.9 509.9,587.1 506.2,591.7C502.5,596.3 501,600 499.6,604.9C498.2,609.8 497.8,616.3 498,621.4C498.2,626.5 499.1,631.8 500.7,635.6C502.2,639.4 504.6,641.6 507.3,644.4C510.1,647.1 514.8,650.4 517.2,652.1C519.6,653.8 520.9,654.3 521.6,654.8" stroke-width="1.2" fill="none" />
<line x1="537" y1="570.9" x2="549" y2="572.5" stroke-width="1.2" />
<line x1="549" y1="572.5" x2="566.6" y2="581.3" stroke-width="1.2" />
<path d="M566.6,581.3C565.7,581.3 564.4,580.5 561.1,581.3C557.8,582.1 551.7,583.2 546.8,586.2C541.9,589.2 535.7,594.5 531.5,599.4C527.3,604.3 523.6,610.4 521.6,615.9C519.6,621.4 519.4,627.2 519.4,632.3C519.4,637.4 520.1,642.8 521.6,646.6C523.1,650.5 525.8,653.2 528.2,655.4C530.6,657.6 532.8,659.3 535.9,659.8C539,660.2 543.3,659.6 546.8,658.1C550.3,656.6 555.1,652.2 556.7,651" stroke-width="1.2" fill="none" />
<path d="M578.1,595C577.1,594.7 574.3,593.3 572,593C569.7,592.7 568.2,592.3 564.4,593.4C560.6,594.5 553.6,596.4 549,599.4C544.4,602.4 539.9,606.9 537,611.5C534.1,616.1 532.2,622 531.5,626.8C530.8,631.5 531.5,636.1 532.6,640C533.7,643.9 535.7,647.3 538.1,649.9C540.5,652.5 543.5,654.8 546.8,655.4C550.1,656 555.1,654.1 557.8,653.2C560.5,652.3 562.1,650.5 563,650" stroke-width="1.2" fill="none" />
<path d="M563.5,609.7C562.5,609.5 559.6,607.7 557.3,608.6C555,609.5 552,612 549.7,615.2C547.4,618.4 544.4,624.2 543.5,627.6C542.6,631 543.6,634 544.1,635.9C544.6,637.8 545.9,638.2 546.2,638.7" stroke-width="1.2" fill="none" />
<line x1="563.5" y1="609.7" x2="592.5" y2="625.6" stroke-width="1.2" />
<line x1="546.2" y1="638.7" x2="577.3" y2="656.7" stroke-width="1.2" />
<ellipse cx="586" cy="641.5" rx="9.6" ry="16.8" stroke-width="1.2" fill="#fff" transform="rotate(26 586 641.5)" />
<ellipse cx="588.6" cy="642.6" rx="7.6" ry="14" stroke-width="1.0" fill="#111" transform="rotate(26 588.6 642.6)" />
<g clip-path="url(#spl)" stroke="#fff" stroke-width="0.8">
<line x1="580" y1="624.4" x2="597" y2="633.4" stroke-width="0.7" />
<line x1="580" y1="626.6" x2="597" y2="635.6" stroke-width="0.7" />
<line x1="580" y1="628.8" x2="597" y2="637.8" stroke-width="0.7" />
<line x1="580" y1="631" x2="597" y2="640" stroke-width="0.7" />
<line x1="580" y1="633.2" x2="597" y2="642.2" stroke-width="0.7" />
<line x1="580" y1="635.4" x2="597" y2="644.4" stroke-width="0.7" />
<line x1="580" y1="637.6" x2="597" y2="646.6" stroke-width="0.7" />
<line x1="580" y1="639.8" x2="597" y2="648.8" stroke-width="0.7" />
<line x1="580" y1="642" x2="597" y2="651" stroke-width="0.7" />
<line x1="580" y1="644.2" x2="597" y2="653.2" stroke-width="0.7" />
<line x1="580" y1="646.4" x2="597" y2="655.4" stroke-width="0.7" />
<line x1="580" y1="648.6" x2="597" y2="657.6" stroke-width="0.7" />
<line x1="580" y1="650.8" x2="597" y2="659.8" stroke-width="0.7" />
</g>
<ellipse cx="517.1" cy="512.2" rx="1.9" ry="2.8" stroke-width="1.1" fill="none" transform="rotate(30 517.1 512.2)" />
<ellipse cx="557" cy="546.9" rx="1.9" ry="2.8" stroke-width="1.1" fill="none" transform="rotate(30 557 546.9)" />
<ellipse cx="562.4" cy="552.2" rx="1.6" ry="2.4" stroke-width="1.1" fill="none" transform="rotate(30 562.4 552.2)" />
<ellipse cx="565.9" cy="558.4" rx="1.9" ry="2.8" stroke-width="1.1" fill="none" transform="rotate(30 565.9 558.4)" />
<ellipse cx="483.3" cy="589.5" rx="1.9" ry="2.8" stroke-width="1.1" fill="none" transform="rotate(30 483.3 589.5)" />
<ellipse cx="478" cy="600.2" rx="1.6" ry="2.4" stroke-width="1.1" fill="none" transform="rotate(30 478 600.2)" />
<ellipse cx="475.3" cy="611.7" rx="1.9" ry="2.8" stroke-width="1.1" fill="none" transform="rotate(30 475.3 611.7)" />
<ellipse cx="584.6" cy="608.2" rx="1.9" ry="2.8" stroke-width="1.1" fill="none" transform="rotate(30 584.6 608.2)" />
<ellipse cx="511.7" cy="665" rx="1.9" ry="2.8" stroke-width="1.1" fill="none" transform="rotate(30 511.7 665)" />
<ellipse cx="520.6" cy="660.6" rx="1.5" ry="2.2" stroke-width="1.1" fill="none" transform="rotate(30 520.6 660.6)" />
<ellipse cx="448.7" cy="686.3" rx="1.5" ry="2.2" stroke-width="1.1" fill="none" transform="rotate(30 448.7 686.3)" />
<line x1="450" y1="687" x2="466.4" y2="696.8" stroke-width="1.0" />
<path d="M457.2,573.7 Q459,572 460.6,572.4 Q462.2,572.6 463.3,573.7 L468.6,581.5 Q469.2,583.6 468.2,585.6 L460.4,606.8 Q459.6,609.4 458.2,610.1 L448.2,612.2 Q446,612.6 444.9,611.3 Q443.2,610.1 443.3,608.6 Z" stroke-width="1.3" fill="#fff" />
<polygon points="457.2,573.7 458.9,574.6 445.3,610.2 443.3,608.6" stroke-width="0.8" fill="#222" />
<line x1="458.2" y1="574.4" x2="444.2" y2="609.6" stroke-width="0.5" stroke="#fff" stroke-dasharray="0.7 0.9"/>
<ellipse cx="460.6" cy="584.6" rx="2.9" ry="3.7" stroke-width="1.2" fill="none" transform="rotate(25 460.6 584.6)" />
<ellipse cx="462.3" cy="585.1" rx="2.6" ry="3.4" stroke-width="1.2" fill="none" transform="rotate(25 462.3 585.1)" />
<ellipse cx="456.5" cy="594.3" rx="2.2" ry="2.6" stroke-width="1.1" fill="none" transform="rotate(25 456.5 594.3)" />
<ellipse cx="457.1" cy="594.5" rx="1.4" ry="1.8" stroke-width="0.9" fill="none" transform="rotate(25 457.1 594.5)" />
<ellipse cx="453.5" cy="604.1" rx="2.9" ry="3.7" stroke-width="1.2" fill="none" transform="rotate(25 453.5 604.1)" />
<ellipse cx="455.2" cy="604.6" rx="2.6" ry="3.4" stroke-width="1.2" fill="none" transform="rotate(25 455.2 604.6)" />
<ellipse cx="477.6" cy="703.1" rx="5.6" ry="7.2" stroke-width="1.1" fill="none" transform="rotate(35 477.6 703.1)" />
<ellipse cx="477.9" cy="703.3" rx="3.2" ry="4.6" stroke-width="1.0" fill="none" transform="rotate(35 477.9 703.3)" />
<polygon points="501.9,713.3 488.5,705.5 485.9,710 499.3,717.8" stroke-width="1.1" fill="#111" />
<line x1="500.3" y1="713.1" x2="499.2" y2="717" stroke-width="0.55" stroke="#fff"/>
<line x1="498.9" y1="712.3" x2="497.8" y2="716.2" stroke-width="0.55" stroke="#fff"/>
<line x1="497.5" y1="711.5" x2="496.4" y2="715.4" stroke-width="0.55" stroke="#fff"/>
<line x1="496.2" y1="710.7" x2="495.1" y2="714.5" stroke-width="0.55" stroke="#fff"/>
<line x1="494.8" y1="709.9" x2="493.7" y2="713.7" stroke-width="0.55" stroke="#fff"/>
<line x1="493.4" y1="709.1" x2="492.3" y2="712.9" stroke-width="0.55" stroke="#fff"/>
<line x1="492" y1="708.3" x2="490.9" y2="712.1" stroke-width="0.55" stroke="#fff"/>
<line x1="490.6" y1="707.4" x2="489.5" y2="711.3" stroke-width="0.55" stroke="#fff"/>
<line x1="489.2" y1="706.6" x2="488.1" y2="710.5" stroke-width="0.55" stroke="#fff"/>
<ellipse cx="487.2" cy="707.7" rx="1.2" ry="2.6" stroke-width="1.0" fill="#fff" transform="rotate(-149.7 487.2 707.7)" />
<polygon points="496.5,716.7 499.6,711.4 503.7,710.2 507.6,712.4 508.6,716.6 505.5,722 501.4,723.2 497.5,720.9" stroke-width="1.25" fill="#fff" />
<polygon points="507.6,712.4 503.5,713.6 500.4,719 501.4,723.2 505.5,722 508.6,716.6" stroke-width="1.0" fill="none" />
<line x1="507.6" y1="712.4" x2="503.7" y2="710.2" stroke-width="0.8" />
<line x1="503.5" y1="713.6" x2="499.6" y2="711.4" stroke-width="0.8" />
<line x1="500.4" y1="719" x2="496.5" y2="716.7" stroke-width="0.8" />
<line x1="501.4" y1="723.2" x2="497.5" y2="720.9" stroke-width="0.8" />
<polyline points="656.5,613.5 679.6,576.8 757,540 837.9,580" stroke-width="1.5" fill="none" />
<polyline points="683.9,577.2 755.9,543" stroke-width="0.9" fill="none" />
<polyline points="684.8,578.9 756.8,544.7" stroke-width="0.9" fill="none" />
<polyline points="685.6,580.6 757.6,546.4" stroke-width="1.0" fill="none" />
<polyline points="686.4,582.4 758.4,548.2" stroke-width="1.1" fill="none" />
<polyline points="684.4,579.8 661.8,615.3" stroke-width="1.1" fill="none" />
<polyline points="760,547 836,584.5" stroke-width="1.0" fill="none" />
<line x1="787.4" y1="557.9" x2="787.4" y2="580.8" stroke-width="1.0" />
<line x1="790.6" y1="569" x2="804.8" y2="575.3" stroke-width="1.0" />
<ellipse cx="781.9" cy="565.8" rx="1.8" ry="2.4" stroke-width="1.0" fill="none" transform="rotate(20 781.9 565.8)" />
<ellipse cx="688.3" cy="587.8" rx="6.6" ry="7.3" stroke-width="1.4" fill="#fff" transform="rotate(15 688.3 587.8)" />
<ellipse cx="690.7" cy="586.4" rx="6.6" ry="7.3" stroke-width="1.4" fill="#fff" transform="rotate(15 690.7 586.4)" />
<ellipse cx="691" cy="586.6" rx="3.4" ry="3.8" stroke-width="1.2" fill="none" transform="rotate(15 691 586.6)" />
<ellipse cx="691" cy="586.6" rx="1.2" ry="1.4" stroke-width="1.0" fill="none" transform="rotate(15 691 586.6)" />
<ellipse cx="724.4" cy="570.9" rx="6.6" ry="7.3" stroke-width="1.4" fill="#fff" transform="rotate(15 724.4 570.9)" />
<ellipse cx="726.8" cy="569.5" rx="6.6" ry="7.3" stroke-width="1.4" fill="#fff" transform="rotate(15 726.8 569.5)" />
<ellipse cx="727.1" cy="569.7" rx="3.4" ry="3.8" stroke-width="1.2" fill="none" transform="rotate(15 727.1 569.7)" />
<ellipse cx="727.1" cy="569.7" rx="1.2" ry="1.4" stroke-width="1.0" fill="none" transform="rotate(15 727.1 569.7)" />
<ellipse cx="759.6" cy="553.6" rx="6.6" ry="7.3" stroke-width="1.4" fill="#fff" transform="rotate(15 759.6 553.6)" />
<ellipse cx="762" cy="552.2" rx="6.6" ry="7.3" stroke-width="1.4" fill="#fff" transform="rotate(15 762 552.2)" />
<ellipse cx="762.3" cy="552.4" rx="3.4" ry="3.8" stroke-width="1.2" fill="none" transform="rotate(15 762.3 552.4)" />
<ellipse cx="762.3" cy="552.4" rx="1.2" ry="1.4" stroke-width="1.0" fill="none" transform="rotate(15 762.3 552.4)" />
<path d="M656.5,613.5C656,614.1 653.9,614.2 653.5,617C653.1,619.8 653.7,626 654,630C654.3,634 654.5,638.8 655.5,641C656.5,643.2 659.2,642.7 660,643" stroke-width="1.2" fill="none" />
<polyline points="660,643 661.5,616 656.5,613.5" stroke-width="1.0" fill="none" />
<ellipse cx="667.8" cy="619.5" rx="2.6" ry="3" stroke-width="1.1" fill="none" transform="rotate(20 667.8 619.5)" />
<polyline points="655.3,624.8 616.3,678.7" stroke-width="1.3" fill="none" />
<polyline points="657.5,628 618,680.5" stroke-width="0.9" fill="none" />
<polyline points="661.8,642 637.2,679.8" stroke-width="1.1" fill="none" />
<polyline points="664,643 639.4,681" stroke-width="0.9" fill="none" />
<path d="M637.2,679.8C635.3,679.7 629.5,679.3 626,679.2C622.5,679.1 619,678.8 616.3,679.2C613.5,679.6 611.3,680.4 609.5,681.5C607.7,682.6 606.4,684.2 605.5,686C604.6,687.8 604.2,688 603.9,692C603.6,696 603.7,702.4 603.6,710C603.5,717.6 603.6,731.9 603.4,737.9C603.2,743.9 603.1,743.6 602.5,746C601.9,748.4 600.6,749.9 599.6,752C598.6,754.1 597.1,756.7 596.8,758.6C596.5,760.5 596.7,761.2 597.8,763.3C598.9,765.3 601.7,768.1 603.4,770.9C605.1,773.7 606.7,776.8 608.1,780.3C609.5,783.8 610.7,788.4 611.9,792C613.1,795.6 614.1,798.7 615.5,802C616.9,805.3 617.8,807.8 620,812C622.2,816.2 625.8,822.5 629,827C632.2,831.5 637.3,837 639,839" stroke-width="1.4" fill="none" />
<path d="M638.3,682.6C636.2,682.6 629.8,682.8 626,682.8C622.2,682.8 618.3,682 615.7,682.6C613.1,683.2 611.7,684.8 610.5,686.5C609.3,688.2 608.8,688.4 608.4,693C608,697.6 608.3,706.3 608.4,714.4C608.5,722.5 609.6,735.7 608.9,741.7C608.2,747.7 605.5,747.7 604.4,750.2C603.3,752.7 602.3,754.4 602.3,756.7C602.3,759.1 603.1,761.9 604.4,764.3C605.7,766.7 608.4,768.2 610,771C611.6,773.8 612.7,777.3 614,781C615.3,784.7 616.7,789 618,793C619.3,797 620.3,800.8 622,805C623.7,809.2 625.7,813.5 628,818C630.3,822.5 634.7,829.7 636,832" stroke-width="1.0" fill="none" />
<line x1="605" y1="741.5" x2="609" y2="741.5" stroke-width="0.9" />
<line x1="603.8" y1="690" x2="608.4" y2="693" stroke-width="0.9" />
<path d="M638.3,679.8C638.6,680.4 640.5,680.4 640.1,683.3C639.7,686.2 637.4,692.6 636,697C634.6,701.4 632.1,706 631.7,709.7C631.3,713.4 633.5,716 633.5,719.1C633.5,722.2 633.1,726.1 631.7,728.5C630.3,730.9 626.4,729.3 625.1,733.2C623.8,737.1 624.6,747.3 624.1,752C623.6,756.7 622.6,757.7 622.2,761.5C621.9,765.3 621.7,770.2 622,775C622.3,779.8 622.7,785 624,790C625.3,795 627.3,799.7 630,805C632.7,810.3 638.3,819.2 640,822" stroke-width="1.1" fill="none" />
<path d="M635.5,684C634.9,686.2 633.2,692.7 632,697C630.8,701.3 628.9,707.8 628.3,710" stroke-width="0.9" fill="none" />
<ellipse cx="615.7" cy="691.8" rx="2.9" ry="3.3" stroke-width="1.2" fill="none" />
<path d="M611,714.4C611.3,710.8 611.9,708.9 613,707C614.1,705.1 615.6,703.6 617.5,703.1C619.4,702.6 622.5,702.6 624.1,704C625.7,705.4 625.6,710.2 627,711.5C628.4,712.8 631.5,710.2 632.6,711.5C633.7,712.8 633.6,716.3 633.5,719.1C633.4,721.9 633.3,726.3 631.7,728.5C630.1,730.7 626.9,731.4 624.1,732.3C621.3,733.2 616.9,734.7 614.7,734.1C612.5,733.5 611.6,731.8 611,728.5C610.4,725.2 610.7,718 611,714.4Z" stroke-width="1.2" fill="none" />
<path d="M613.2,715C613.5,712 614.1,710.5 615,709C615.9,707.5 617.2,706.3 618.5,706C619.8,705.7 621.8,705.8 623,707C624.2,708.2 624.2,712.3 625.5,713.5C626.8,714.7 629.6,712.9 630.5,714C631.4,715.1 631.2,717.8 631,720C630.8,722.2 630.8,725.3 629.5,727C628.2,728.7 625.8,729.2 623.5,730C621.2,730.8 617.2,732 615.5,731.5C613.8,731 613.6,729.8 613.2,727C612.8,724.2 612.9,718 613.2,715Z" stroke-width="0.9" fill="none" />
<ellipse cx="621.3" cy="724.4" rx="3.9" ry="5" stroke-width="1.3" fill="none" transform="rotate(20 621.3 724.4)" />
<ellipse cx="621.8" cy="724.8" rx="3" ry="4" stroke-width="0.8" fill="none" transform="rotate(20 621.8 724.8)" />
<g transform="rotate(-28 613 756.7)"><rect x="606" y="753.2" width="14" height="7" rx="3.5" stroke-width="1.2" fill="none"/><rect x="607.8" y="754.6" width="10.4" height="4.2" rx="2.1" stroke-width="0.9" fill="none"/></g>
<polygon points="614.3,775.5 617.5,773.5 622.2,774.5 624,779 621.2,783.5 617,784 614.5,781" stroke-width="1.3" fill="#fff" />
<ellipse cx="619.2" cy="778.8" rx="2.3" ry="2.8" stroke-width="1.1" fill="none" />
<line x1="617.5" y1="773.5" x2="618" y2="769" stroke-width="0.9" />
<line x1="622.2" y1="774.5" x2="622.4" y2="769.5" stroke-width="0.9" />
<g transform="rotate(33 635 756.6)"><rect x="621" y="753.8" width="28" height="5.6" rx="2.8" stroke-width="1.2" fill="#fff"/></g>
<path d="M804.2,591.7C801.4,589.7 792.3,582.4 787.4,579.8C782.5,577.2 779.2,576.7 774.6,575.9C770,575.1 765.5,574.3 759.7,574.9C753.9,575.5 746.1,577.1 740,579.3C733.9,581.5 728.6,584.9 723.2,587.9C717.8,590.9 712.7,593.7 707.4,597.4C702.1,601.1 696.9,605.5 691.6,610C686.3,614.5 680.5,619.2 675.8,624.2C671.1,629.2 665.3,637.4 663.2,640" stroke-width="1.25" fill="none" />
<path d="M803,594.2C800.4,592.2 792.1,584.5 787.4,582C782.7,579.5 779.2,579.6 774.6,578.9C770,578.2 765.5,577.4 759.7,578C753.9,578.6 746,580.3 740,582.4C734,584.5 729.1,587.6 723.8,590.6C718.5,593.6 713.5,596.5 708.4,600.2C703.2,603.9 698.1,608.2 692.9,612.6C687.7,617 682,621.7 677.4,626.7C672.8,631.7 667.1,639.9 665,642.5" stroke-width="0.95" fill="none" />
<path d="M838.7,624.2C837.9,622.6 836.3,617.7 833.8,614.4C831.3,611.1 827.2,607.3 823.9,604.5C820.6,601.7 818.1,599.9 814,597.6C809.9,595.3 804.1,592.4 799.2,590.7C794.3,589.1 789.3,588.2 784.4,587.7C779.5,587.2 774.5,587 769.6,587.7C764.7,588.4 759.7,589.9 754.8,591.7C749.9,593.5 745.3,595.5 740,598.4C734.7,601.3 728.6,605.4 723.2,609.2C717.8,613 712.8,616 707.4,621.1C702,626.2 696.6,632.5 690.6,640C684.6,647.5 676.8,658.2 671.6,666.1C666.5,674 663.4,678.4 659.7,687.4C656,696.4 652.1,710.7 649.5,720.3C646.9,729.9 645,736.6 643.8,745C642.6,753.4 641.9,762.2 642.2,770.8C642.5,779.3 643.7,788.7 645.6,796.3C647.5,803.9 650.6,810.7 653.7,816.6C656.8,822.5 660.2,827.6 664,831.9C667.8,836.1 671.1,839 676.2,842.1C681.3,845.2 689.1,848.7 694.5,850.3C699.9,851.9 706.1,851.6 708.4,851.9" stroke-width="1.25" fill="none" />
<path d="M651.4,720.7C650.4,724.8 646.9,737 645.7,745.4C644.5,753.8 643.8,762.6 644.1,771.2C644.4,779.7 645.6,789.1 647.5,796.7C649.4,804.3 654.2,813.9 655.6,817C657,820.1 654.3,813.3 656,815.5C657.7,817.7 662.4,826.1 666,830.2C669.6,834.3 672.7,837.2 677.5,840.2C682.3,843.2 689.8,846.7 695,848.3C700.2,849.9 706.3,849.5 708.6,849.8" stroke-width="0.9" fill="none" />
<path d="M837.7,640C837.1,638.9 836.1,636.1 833.8,633.1C831.5,630.1 827.2,625.4 823.9,622.3C820.6,619.2 818.1,616.9 814,614.4C809.9,611.9 804.1,609 799.2,607.4C794.3,605.8 789.3,604.6 784.4,604.5C779.5,604.4 774.5,605.4 769.6,606.5C764.7,607.6 759.7,609.2 754.8,611.4C749.9,613.6 744,617.5 740,619.9C736,622.3 735.2,622.5 731.1,625.6C727,628.7 721.1,632.7 715.3,638.5C709.5,644.3 702.5,652.7 696.5,660.3C690.5,667.9 683.6,675.7 679.5,684.2C675.4,692.7 673.2,704.8 671.6,711.1C670,717.4 669.9,720.2 669.6,722" stroke-width="1.15" fill="none" />
<path d="M660,762C660,762.8 659.4,761.8 659.9,766.7C660.4,771.6 661,783.7 662.9,791.2C664.8,798.7 667.5,805.6 671.1,811.5C674.7,817.4 679.2,822.4 684.3,826.8C689.4,831.2 696.5,835.5 701.6,838.1C706.7,840.7 709.7,841.9 715,842.5C720.3,843.1 725.1,843.5 733.3,841.6C741.5,839.7 755.1,835.7 764.4,831.2C773.7,826.7 782.4,820.5 789.3,814.6C796.2,808.7 799.6,803.6 805.8,796C812,788.4 821.1,776.6 826.6,769C832.1,761.4 835.1,755.9 839,750.4C842.9,744.9 848.2,738.4 850,736" stroke-width="1.15" fill="none" />
<path d="M814,649.9C813.2,648.6 811.6,644.5 809.1,642C806.6,639.5 803.3,636.9 799.2,635.1C795.1,633.3 789.3,631.6 784.4,631.1C779.5,630.6 774.5,631.1 769.6,632.1C764.7,633.1 759.7,635 754.8,637.1C749.9,639.2 744,642.7 740,645C736,647.3 734,648.6 731.1,651.1C728.2,653.6 726.4,655.3 722.4,660C718.4,664.7 711.6,672.6 707.1,679.5C702.6,686.4 697.7,697.4 695.3,701.6C692.9,705.8 693.3,704.3 692.9,704.8" stroke-width="1.15" fill="none" />
<path d="M681.3,764.7C682,767.1 683.4,775.2 685.3,778.9C687.2,782.6 689.2,785.5 692.5,787.1C695.8,788.7 700.9,788.4 705,788.6C709.1,788.9 713.7,788 717.4,788.6C721.1,789.2 724.2,790.8 727,792.5C729.8,794.2 732.8,797.9 734,799" stroke-width="1.0" fill="none" />
<path d="M837.9,580C838.1,580.5 839,579.7 839.4,583C839.8,586.3 839.8,595.2 840,600C840.2,604.8 839.9,609 840.5,611.7C841.1,614.4 843.1,612.1 843.8,616.1C844.5,620.1 843.6,631.1 844.9,635.9C846.2,640.6 848.9,642.4 851.5,644.6C854.1,646.8 858.5,647.3 860.3,649C862.1,650.7 862,654 862.4,655" stroke-width="1.3" fill="none" />
<path d="M833.9,602.9C834.2,604.4 835.3,608.3 836,612C836.7,615.7 837.4,620.5 838.3,624.9C839.2,629.2 840.3,634.7 841.6,638.1C842.9,641.5 845.3,644.3 846,645.5" stroke-width="1.1" fill="none" />
<polyline points="803.2,591.1 808.7,592 812,586 816.3,583.2 836.1,579.9 839.4,582.1" stroke-width="1.1" fill="none" />
<path d="M808.7,592C808.9,592.8 809.3,595.7 810,597C810.7,598.3 812.5,599.5 813,600" stroke-width="1.0" fill="none" />
<ellipse cx="834.5" cy="588.7" rx="3" ry="3.4" stroke-width="1.2" fill="none" />
<ellipse cx="835.2" cy="588.7" rx="2.2" ry="2.6" stroke-width="0.8" fill="none" />
<path d="M826.2,606C826.5,605.6 827,603.9 828,603.5C829,603.1 830.8,602.9 832,603.5C833.2,604.1 834.5,606.4 835,607" stroke-width="1.0" fill="none" />
<polygon points="805.4,655.5 812,648.5 825,642 836,637.5 844,638.5 851.5,644.6 858.5,648.5 862.4,655 862.4,664 861.4,668.8 838.3,674.3 812,664.4 805.4,658.5" stroke-width="1.3" fill="#fff" />
<ellipse cx="839.4" cy="663.9" rx="12.1" ry="6" stroke-width="1.3" fill="none" transform="rotate(-5 839.4 663.9)" />
<ellipse cx="839.4" cy="664.9" rx="10.2" ry="4.4" stroke-width="1.0" fill="none" transform="rotate(-5 839.4 664.9)" />
<polygon points="805.4,658.5 806.5,668.8 826.2,700.6 838.3,701.2 861.4,694 861.4,668.8 838.3,674.3 812,664.4" stroke-width="1.3" fill="#fff" />
<line x1="838.3" y1="674.3" x2="838.3" y2="701.2" stroke-width="1.1" />
<line x1="812" y1="664.4" x2="812" y2="673" stroke-width="1.0" />
<polyline points="813,668 838.3,677.6 861.4,672" stroke-width="1.0" fill="none" />
<line x1="863.9" y1="669.5" x2="863.9" y2="690.5" stroke-width="1.0" />
<polyline points="869.5,688.3 878.9,694 870.8,702.8" stroke-width="1.0" fill="none" />
<line x1="875.2" y1="688.3" x2="883.5" y2="694.5" stroke-width="0.9" />
<line x1="869.5" y1="690.2" x2="870.8" y2="703" stroke-width="1.8" />
<polyline points="812,673 833.9,680.9 827.3,700.4" stroke-width="0.9" fill="none" />
<path d="M806,659C807,660.5 809.7,665.8 812,668C814.3,670.2 818.7,671.3 820,672" stroke-width="0.8" fill="none" />
<path d="M828.5,700C828.2,702.5 827.2,710.2 826.9,715C826.6,719.8 826.4,724.1 826.9,728.5C827.4,732.9 827.9,738.5 830,741.1C832.1,743.7 836.2,744.8 839.5,744.3C842.8,743.8 846.6,740.6 850,738C853.4,735.4 856.6,733 860.1,728.5C863.6,724 869.1,716.4 871.1,711.1C873.1,705.9 872,701 872,697C872,693 872,690.3 871.1,687.4C870.2,684.5 867.9,681.4 866.4,679.5C864.9,677.6 863.1,676.6 862.4,676" stroke-width="1.3" fill="none" />
<ellipse cx="852.5" cy="716" rx="9.8" ry="14.5" stroke-width="1.1" fill="none" transform="rotate(15 852.5 716)" />
<line x1="827" y1="712" x2="837" y2="712" stroke-width="0.9" />
<line x1="827" y1="722" x2="837" y2="722" stroke-width="0.9" />
<line x1="848" y1="731" x2="847" y2="740" stroke-width="0.9" />
<line x1="856" y1="728" x2="856" y2="736" stroke-width="0.9" />
<path d="M866.4,679.5C867.3,679.8 870.2,680.2 872,681C873.8,681.8 875.4,682.7 877.4,684.2C879.4,685.7 882.4,687.9 884,690C885.6,692.1 886.7,694.6 886.9,696.9C887.1,699.2 886.3,702.2 885.3,704C884.3,705.8 882.5,707 881,707.5C879.5,708 877.1,706.7 876,707C874.9,707.3 874.6,709.1 874.3,709.5" stroke-width="1.2" fill="none" />
<ellipse cx="881.5" cy="703.5" rx="3" ry="3.2" stroke-width="1.0" fill="none" />
<path d="M874.3,709.5C873.2,711.6 870.9,716.5 868,722C865.1,727.5 862.6,734.9 857.2,742.2C851.8,749.6 841.3,759.5 835.4,766.1C829.5,772.7 825.9,777 822,782C818.1,787 816.5,790.5 812.1,796C807.7,801.5 803.5,808.2 795.5,814.8C787.5,821.4 774.8,830.1 764.4,835.5C754,840.9 742.6,844.5 733.3,846.9C724,849.3 712.5,849.4 708.4,849.9" stroke-width="1.3" fill="none" />
<path d="M870.5,711.5C869.4,713.6 866.8,718.8 864,724C861.2,729.2 858.8,735.9 853.5,743C848.2,750.1 837.8,760 832,766.5C826.2,773 822.8,777.2 819,782C815.2,786.8 813.3,790 809,795C804.7,800 800.8,805.8 793,812C785.2,818.2 772.7,827.2 762.5,832.5C752.3,837.8 740.8,841.1 732,843.5C723.2,845.9 713.7,846.1 710,846.6" stroke-width="0.9" fill="none" />
<line x1="836.4" y1="747.4" x2="806.4" y2="798" stroke-width="1.1" />
<line x1="830" y1="744" x2="802" y2="791" stroke-width="0.9" />
<path d="M739,785.6C738.2,782.4 735.6,772.7 734.2,766.6C732.8,760.5 731.3,754.8 730.7,748.9C730.1,743 729.7,736.6 730.7,731.1C731.7,725.6 734.2,720.8 736.6,715.7C739,710.6 741.9,705.2 745,700.5C748.1,695.8 750.8,691.5 755.5,687.3C760.2,683.1 767.4,678.1 773.3,675.4C779.2,672.7 785.8,671.7 791.1,671.3C796.4,670.9 801.3,671.5 805.3,673C809.2,674.5 812.2,677.1 814.8,680.1C817.4,683.1 819.1,686.6 820.7,690.8C822.3,694.9 823.7,700.3 824.3,705C824.9,709.7 824.7,714.5 824.3,719.2C823.9,724 823.1,728.4 821.9,733.5C820.7,738.6 819,744.9 817.2,750C815.4,755.1 812.2,761.9 811.2,764.3" stroke-width="1.6" fill="none" />
<path d="M733.2,748C733.2,745.2 732.3,736.6 733.2,731.5C734.1,726.4 736.5,722.1 738.8,717.3C741.1,712.5 743.9,707.2 747,702.6C750.1,698 752.7,693.9 757.2,689.8C761.8,685.7 768.6,680.8 774.3,678.2C780,675.6 786.2,674.5 791.3,674.1C796.3,673.7 801,674.5 804.6,675.9C808.2,677.3 810.7,679.6 813,682.3C815.3,685 817.6,690.4 818.5,692" stroke-width="0.9" fill="none" />
<polyline points="811.2,764.3 788.7,756" stroke-width="1.3" fill="none" />
<path d="M787.5,756C786.2,757.2 782.4,761.1 780,763.5C777.6,765.9 776,768 773.3,770.2C770.6,772.4 767,774.5 764,776.5C761,778.5 758.2,780.5 755.5,782C752.8,783.5 750.4,784.5 748,785.5C745.6,786.5 742.4,787.6 741.3,788" stroke-width="1.7" fill="none" />
<path d="M788.1,757.9C786.9,759.1 783,763 780.6,765.4C778.2,767.8 776.6,769.9 773.9,772.1C771.2,774.3 767.6,776.4 764.6,778.4C761.6,780.4 758.8,782.4 756.1,783.9C753.4,785.4 751,786.4 748.6,787.4C746.2,788.4 743,789.5 741.9,789.9" stroke-width="0.9" fill="none" />
<path d="M807.7,677.8C808.3,679.2 810.7,683 811.5,686C812.3,689 812.4,691 812.4,695.5C812.4,700 812.4,708.1 811.2,713.3C810,718.4 808.2,721.8 805.3,726.4C802.3,731 796.6,736.3 793.5,740.6C790.4,744.9 787.6,750.4 786.4,752.4" stroke-width="1.0" fill="none" />
<line x1="812.4" y1="709.8" x2="821.9" y2="718.1" stroke-width="0.9" />
<path d="M725.9,758.3C726.2,759.9 726.7,764.4 727.6,768C728.5,771.6 729.9,776.3 731.5,780C733.1,783.7 735.2,787.3 737,790C738.8,792.7 741.6,795.2 742.5,796.3" stroke-width="1.4" fill="none" />
<path d="M728.6,758C728.8,759.7 729.1,764.4 730,768C730.9,771.6 732.3,776 733.8,779.5C735.3,783 737.4,786.5 739,789C740.6,791.5 742.8,793.6 743.5,794.5" stroke-width="0.9" fill="none" />
<line x1="742.5" y1="796.3" x2="744.5" y2="793.5" stroke-width="1.2" />
<path d="M701,705C702.8,705.5 708.5,706.8 712,708C715.5,709.2 719,709.7 722,712C725,714.3 728.7,720.3 730,722" stroke-width="1.0" fill="none" />
<path d="M711,705C711.8,703.7 713.8,697.8 716,697C718.2,696.2 721.5,698.2 724,700C726.5,701.8 729.8,706.7 731,708" stroke-width="0.9" fill="none" />
<polygon points="650,733.5 669,720 691,707.4 700.6,704.2 729,721.6 716.4,740.6 699,745.3 692.7,742.1" stroke-width="1.3" fill="#fff" />
<ellipse cx="706.9" cy="727.1" rx="12.6" ry="6.1" stroke-width="1.3" fill="none" transform="rotate(-8 706.9 727.1)" />
<ellipse cx="706.7" cy="728.2" rx="10.3" ry="4.5" stroke-width="1.0" fill="none" transform="rotate(-8 706.7 728.2)" />
<polygon points="650,733.5 692.7,742.1 699,745.3 699,762.7 661.1,764.3 648.5,758" stroke-width="1.3" fill="#fff" />
<polygon points="699,745.3 716.4,740.6 729,723.2 729,754.8 716.4,762.7 699,762.7" stroke-width="1.3" fill="#fff" />
<line x1="692.7" y1="742.1" x2="693" y2="763" stroke-width="1.0" />
<line x1="716.4" y1="740.6" x2="716.4" y2="762.7" stroke-width="1.0" />
<path d="M648.5,758C649.1,759 649.9,762.6 652,764C654.1,765.4 656.4,766.2 661.1,766.5C665.8,766.8 673.7,766.6 680,766C686.3,765.4 695.8,763.5 699,763" stroke-width="1.1" fill="none" />
<polyline points="669,720 672,726 698,731" stroke-width="0.9" fill="none" />
<line x1="638.8" y1="838" x2="639.2" y2="877.9" stroke-width="1.3" />
<line x1="642.6" y1="840.5" x2="642.6" y2="874.5" stroke-width="1.0" />
<line x1="669.6" y1="842.6" x2="669.6" y2="861.8" stroke-width="1.0" />
<line x1="673.4" y1="843" x2="673.4" y2="860.6" stroke-width="1.0" />
<line x1="702.3" y1="845" x2="702.3" y2="876.5" stroke-width="1.0" />
<line x1="706.3" y1="844.3" x2="706.3" y2="878.5" stroke-width="1.3" />
<polyline points="642.6,874.5 671.4,861.2 703,876.2" stroke-width="1.2" fill="none" />
<polyline points="642.6,874.5 669.2,886.9" stroke-width="1.2" fill="none" />
<polyline points="681.2,887.6 688.7,885.4 703,876.2" stroke-width="1.2" fill="none" />
<polyline points="639.2,877.9 674.5,895.5 681.4,892.4 681.4,888.6" stroke-width="1.3" fill="none" />
<polyline points="688.7,885.4 688.7,889.2 706.3,878.5" stroke-width="1.3" fill="none" />
<polyline points="639.2,877.9 642.6,874.5" stroke-width="1.0" fill="none" />
<line x1="674.5" y1="891.6" x2="674.5" y2="895.5" stroke-width="0.9" />
<polyline points="640,879.6 674.5,892 681.4,888.6" stroke-width="0.8" fill="none" />
<path d="M681.2,887.6 L670.5,882 Q667.6,880.2 669.2,878.7 Q670.6,877.3 673.5,878.6 L688.7,885.4" stroke-width="1.2" fill="none" />
<line x1="675.6" y1="879.4" x2="675.6" y2="884.5" stroke-width="0.8" />
<path d="M648,833 L648.3,852 Q648.6,856.8 653.6,856.8 Q659.4,856.5 659.6,851 L659.8,838" stroke-width="1.2" fill="none" />
<path d="M651.6,834 L651.8,851.5 Q652.2,854.2 654.6,853.8 Q657.6,853.2 657.7,849.5 L657.7,839" stroke-width="1.0" fill="none" />
<polyline points="804,798.6 833.3,816 833.3,820 822.4,823.6 804,833.4 781.2,824.7 790,818" stroke-width="1.3" fill="none" />
<line x1="804" y1="798.6" x2="804" y2="833.4" stroke-width="1.2" />
<line x1="807" y1="801" x2="807" y2="831" stroke-width="0.9" />
<g transform="rotate(16 818.5 817.5)"><rect x="808" y="815" width="22" height="5" rx="2.5" stroke-width="1.1" fill="none"/></g>
<line x1="838.7" y1="581" x2="838.7" y2="658" stroke-width="1.0" />
<line x1="838.7" y1="702" x2="838.7" y2="838" stroke-width="1.0" stroke-dasharray="46 5"/>
<polyline points="841.1,592.7 852.2,598.2 861.6,593.5" stroke-width="1.0" fill="none" />
<line x1="870.7" y1="588" x2="886.7" y2="598" stroke-width="1.0" />
<line x1="841.1" y1="599" x2="856.9" y2="607.7" stroke-width="1.0" />
<line x1="864.8" y1="613.2" x2="880.6" y2="621.9" stroke-width="1.0" />
<line x1="890.7" y1="627.3" x2="900" y2="632.7" stroke-width="1.0" />
<ellipse cx="839.2" cy="366" rx="9.2" ry="5.6" stroke-width="1.2" fill="#fff" />
<polyline points="830.1,366 830.4,371.8 839.2,375 848.4,372 848.7,366" stroke-width="1.2" fill="none" />
<line x1="839.2" y1="369.8" x2="839.2" y2="375" stroke-width="1.0" />
<line x1="833.6" y1="374.7" x2="833.6" y2="454" stroke-width="1.2" />
<line x1="844.9" y1="374.7" x2="844.9" y2="454" stroke-width="1.2" />
<path d="M833.8,431.5 Q839.2,433.3 844.7,431.5" stroke-width="1.0" fill="none" />
<path d="M833.8,434 Q839.2,435.8 844.7,434" stroke-width="1.0" fill="none" />
<path d="M833.8,436.5 Q839.2,438.3 844.7,436.5" stroke-width="1.0" fill="none" />
<path d="M833.8,439 Q839.2,440.8 844.7,439" stroke-width="1.0" fill="none" />
<path d="M833.8,441.5 Q839.2,443.3 844.7,441.5" stroke-width="1.0" fill="none" />
<path d="M833.8,444 Q839.2,445.8 844.7,444" stroke-width="1.0" fill="none" />
<path d="M833.8,446.5 Q839.2,448.3 844.7,446.5" stroke-width="1.0" fill="none" />
<path d="M833.8,449 Q839.2,450.8 844.7,449" stroke-width="1.0" fill="none" />
<path d="M833.8,451.5 Q839.2,453.3 844.7,451.5" stroke-width="1.0" fill="none" />
<polyline points="833.8,454.2 835.2,455 835.2,461 837,463.9 841.5,463.9 843.3,461 843.3,455 844.7,454.2" stroke-width="1.2" fill="none" />
<path d="M835.2,455.5 Q839.2,457.5 843.3,455.5" stroke-width="0.9" fill="none" />
<ellipse cx="838.6" cy="475.2" rx="12.5" ry="4.9" stroke-width="1.2" fill="#fff" />
<ellipse cx="838.6" cy="473.6" rx="12.5" ry="4.9" stroke-width="1.2" fill="#fff" />
<ellipse cx="838.6" cy="473.4" rx="5" ry="2.1" stroke-width="1.0" fill="none" />
<path d="M827.9,487.5 L827.9,507.5 A10.8,5 0 0 0 849.5,507.5 L849.5,487.5" stroke-width="1.2" fill="#fff"/>
<ellipse cx="838.7" cy="487.8" rx="10.8" ry="5" stroke-width="1.2" fill="#fff" />
<ellipse cx="838.7" cy="487.8" rx="5.4" ry="2.5" stroke-width="1.0" fill="none" />
<ellipse cx="839.3" cy="525.4" rx="12.4" ry="5" stroke-width="1.2" fill="#fff" />
<ellipse cx="839.3" cy="523.9" rx="12.4" ry="5" stroke-width="1.2" fill="#fff" />
<ellipse cx="839.3" cy="523.7" rx="5.2" ry="2.2" stroke-width="1.0" fill="none" />
<path d="M828.4,541 L828.4,546.5 A12,5.5 0 0 0 852.4,546.5 L852.4,541" stroke-width="1.2" fill="#fff"/>
<ellipse cx="840.4" cy="541" rx="12" ry="5.5" stroke-width="1.2" fill="#fff" />
<ellipse cx="840.4" cy="541" rx="5.3" ry="2.4" stroke-width="1.0" fill="none" />
<line x1="838.7" y1="552.4" x2="838.7" y2="571.3" stroke-width="1.0" />
<path d="M912.5,524C913.1,525.5 914.2,529.8 916,533C917.8,536.2 920.5,539.3 923,543C925.5,546.7 928.4,550.5 931,555C933.6,559.5 936.3,565 938.5,570C940.7,575 942.9,580 944,585C945.1,590 945.5,595.5 945.3,600C945.1,604.5 943.8,608.8 943,612C942.2,615.2 941.1,617.8 940.7,619" stroke-width="2.6" fill="none" />
<path d="M912.5,524C913.1,525.5 914.2,529.8 916,533C917.8,536.2 920.5,539.3 923,543C925.5,546.7 928.4,550.5 931,555C933.6,559.5 936.3,565 938.5,570C940.7,575 942.9,580 944,585C945.1,590 945.5,595.5 945.3,600C945.1,604.5 943.8,608.8 943,612C942.2,615.2 941.1,617.8 940.7,619" stroke-width="1.0" fill="none" stroke="#fff"/>
<ellipse cx="911.9" cy="522.3" rx="2" ry="2.5" stroke-width="1.1" fill="none" transform="rotate(20 911.9 522.3)" />
<ellipse cx="939.3" cy="630.5" rx="4.8" ry="6.6" stroke-width="1.3" fill="none" transform="rotate(20 939.3 630.5)" />
<ellipse cx="939.6" cy="631" rx="2.6" ry="3.8" stroke-width="1.0" fill="none" transform="rotate(20 939.6 631)" />
<polygon points="939,619 941.5,618.5 942,624 939,624.5 939,619" stroke-width="1.0" fill="#222" />
<polygon points="884.8,600.9 895.8,606.8 898.6,601.7 887.6,595.7" stroke-width="1.1" fill="#111" />
<line x1="886.4" y1="600.9" x2="887.6" y2="596.6" stroke-width="0.55" stroke="#fff"/>
<line x1="887.8" y1="601.6" x2="889" y2="597.3" stroke-width="0.55" stroke="#fff"/>
<line x1="889.2" y1="602.4" x2="890.4" y2="598.1" stroke-width="0.55" stroke="#fff"/>
<line x1="890.6" y1="603.2" x2="891.8" y2="598.9" stroke-width="0.55" stroke="#fff"/>
<line x1="892" y1="603.9" x2="893.2" y2="599.6" stroke-width="0.55" stroke="#fff"/>
<line x1="893.4" y1="604.7" x2="894.6" y2="600.4" stroke-width="0.55" stroke="#fff"/>
<line x1="894.8" y1="605.4" x2="896" y2="601.1" stroke-width="0.55" stroke="#fff"/>
<polygon points="896,606.5 899.9,608.7 902.4,604.1 898.4,601.9" stroke-width="1.1" fill="#fff" />
<polygon points="903.7,611.1 916.5,618 919.3,612.8 906.5,606" stroke-width="1.1" fill="#111" />
<line x1="905.3" y1="611.1" x2="906.5" y2="606.8" stroke-width="0.55" stroke="#fff"/>
<line x1="906.7" y1="611.9" x2="907.9" y2="607.5" stroke-width="0.55" stroke="#fff"/>
<line x1="908.1" y1="612.6" x2="909.3" y2="608.3" stroke-width="0.55" stroke="#fff"/>
<line x1="909.5" y1="613.4" x2="910.7" y2="609.1" stroke-width="0.55" stroke="#fff"/>
<line x1="911" y1="614.1" x2="912.1" y2="609.8" stroke-width="0.55" stroke="#fff"/>
<line x1="912.4" y1="614.9" x2="913.5" y2="610.6" stroke-width="0.55" stroke="#fff"/>
<line x1="913.8" y1="615.7" x2="915" y2="611.3" stroke-width="0.55" stroke="#fff"/>
<line x1="915.2" y1="616.4" x2="916.4" y2="612.1" stroke-width="0.55" stroke="#fff"/>
<line x1="916.6" y1="617.2" x2="917.8" y2="612.9" stroke-width="0.55" stroke="#fff"/>
<polygon points="901.2,606.4 901.2,606.4 901.1,606.4 901.2,606.4" stroke-width="1.1" fill="#111" />
<ellipse cx="901.2" cy="606.4" rx="0" ry="0" stroke-width="1.0" fill="#fff" transform="rotate(-151.6 901.2 606.4)" />
<polygon points="898,607.3 900.1,603.2 903.4,602.3 907.3,604.5 908.3,607.6 906.1,611.7 902.9,612.6 899,610.4" stroke-width="1.25" fill="#fff" />
<polygon points="907.3,604.5 904.1,605.4 901.9,609.4 902.9,612.6 906.1,611.7 908.3,607.6" stroke-width="1.0" fill="none" />
<line x1="907.3" y1="604.5" x2="903.3" y2="602.3" stroke-width="0.8" />
<line x1="904.1" y1="605.4" x2="900.1" y2="603.2" stroke-width="0.8" />
<line x1="901.9" y1="609.4" x2="898" y2="607.3" stroke-width="0.8" />
<line x1="902.9" y1="612.6" x2="899" y2="610.4" stroke-width="0.8" />
<ellipse cx="917.9" cy="615.4" rx="1.3" ry="2.9" stroke-width="1.0" fill="#fff" transform="rotate(28.4 917.9 615.4)" />
<ellipse cx="927.3" cy="622" rx="5" ry="7.3" stroke-width="1.1" fill="none" transform="rotate(28 927.3 622)" />
<ellipse cx="927.4" cy="622.2" rx="2.9" ry="4.8" stroke-width="0.9" fill="none" transform="rotate(28 927.4 622.2)" />
<ellipse cx="904.7" cy="635.3" rx="5" ry="7.3" stroke-width="1.1" fill="none" transform="rotate(28 904.7 635.3)" />
<ellipse cx="904.8" cy="635.5" rx="2.9" ry="4.8" stroke-width="0.9" fill="none" transform="rotate(28 904.8 635.5)" />
<polygon points="948.5,634 952,630.5 958,631.5 960.5,636.5 957.5,642.5 951,643.5 948,639" stroke-width="1.2" fill="#fff" />
<ellipse cx="954.3" cy="637.2" rx="3.3" ry="4" stroke-width="1.0" fill="none" transform="rotate(20 954.3 637.2)" />
<polygon points="935.5,650.6 912.8,636 909.8,640.5 932.6,655.1" stroke-width="1.1" fill="#fff" />
<polygon points="925.9,644.5 912.8,636 909.8,640.5 923,649" stroke-width="1.1" fill="#111" />
<line x1="924.3" y1="644.2" x2="923" y2="648.2" stroke-width="0.55" stroke="#fff"/>
<line x1="923" y1="643.4" x2="921.6" y2="647.3" stroke-width="0.55" stroke="#fff"/>
<line x1="921.6" y1="642.5" x2="920.3" y2="646.4" stroke-width="0.55" stroke="#fff"/>
<line x1="920.3" y1="641.6" x2="918.9" y2="645.6" stroke-width="0.55" stroke="#fff"/>
<line x1="918.9" y1="640.8" x2="917.6" y2="644.7" stroke-width="0.55" stroke="#fff"/>
<line x1="917.6" y1="639.9" x2="916.2" y2="643.8" stroke-width="0.55" stroke="#fff"/>
<line x1="916.2" y1="639" x2="914.9" y2="643" stroke-width="0.55" stroke="#fff"/>
<line x1="914.9" y1="638.2" x2="913.5" y2="642.1" stroke-width="0.55" stroke="#fff"/>
<line x1="913.5" y1="637.3" x2="912.2" y2="641.2" stroke-width="0.55" stroke="#fff"/>
<ellipse cx="911.3" cy="638.3" rx="1.2" ry="2.7" stroke-width="1.0" fill="#fff" transform="rotate(-147.3 911.3 638.3)" />
<polygon points="930,653.8 933.2,648.8 937.3,647.8 941,650.2 941.8,654.3 938.6,659.4 934.6,660.4 930.8,657.9" stroke-width="1.25" fill="#fff" />
<polygon points="941,650.3 937,651.2 933.8,656.3 934.6,660.3 938.6,659.4 941.8,654.3" stroke-width="1.0" fill="none" />
<line x1="941" y1="650.3" x2="937.3" y2="647.8" stroke-width="0.8" />
<line x1="937" y1="651.2" x2="933.2" y2="648.8" stroke-width="0.8" />
<line x1="933.8" y1="656.3" x2="930" y2="653.8" stroke-width="0.8" />
<line x1="934.6" y1="660.3" x2="930.8" y2="657.9" stroke-width="0.8" />
<path d="M826,838 L826,840.5 A12.9,7.2 0 0 0 851.8,840.5 L851.8,838" stroke-width="1.2" fill="#fff"/>
<ellipse cx="838.9" cy="838" rx="12.9" ry="7.2" stroke-width="1.3" fill="#fff" />
<ellipse cx="839.2" cy="837.6" rx="10.3" ry="5.3" stroke-width="1.2" fill="none" />
<path d="M822.8,864 L822.8,883 Q823,888.5 830,890.5 Q838.7,893.6 847.5,890.5 Q854.3,888.5 854.5,883 L854.5,864 Z" stroke-width="1.3" fill="#fff"/>
<path d="M822.8,866 Q822.8,858 830.5,856.5 Q838.7,851.5 847,856.5 Q854.5,858 854.5,866" stroke-width="1.3" fill="#fff" />
<path d="M823,867 Q838.7,876 854.3,867" stroke-width="2.2" fill="none" />
<ellipse cx="838.9" cy="859.2" rx="10.5" ry="5.2" stroke-width="1.2" fill="#fff" />
<ellipse cx="838.9" cy="858.8" rx="5.8" ry="3.5" stroke-width="1.1" fill="none" />
<ellipse cx="839.3" cy="858.5" rx="4.2" ry="2.5" stroke-width="0.8" fill="none" />
<line x1="827.4" y1="871" x2="827.4" y2="887.5" stroke-width="1.0" />
<path d="M830.5,890 Q838.7,892 847,890" stroke-width="0.9" fill="none" />
<line x1="850.5" y1="858" x2="852.5" y2="866" stroke-width="0.9" />
<polyline points="829.4,907.5 829.8,916.4 835.6,920.6 843,920.6 848,916.4 848,907.5" stroke-width="1.3" fill="#fff" />
<ellipse cx="838.9" cy="906.5" rx="9.2" ry="4.6" stroke-width="1.3" fill="#fff" />
<ellipse cx="838.9" cy="906.3" rx="5.6" ry="3" stroke-width="1.2" fill="none" />
<ellipse cx="839.3" cy="906.2" rx="3.8" ry="2" stroke-width="0.8" fill="none" />
<line x1="836.8" y1="911.5" x2="836.8" y2="920.5" stroke-width="1.0" />
<line x1="829.8" y1="916.4" x2="835.6" y2="920.6" stroke-width="0.9" />
</g>
<g fill="#333" stroke="none" font-family="Liberation Sans, sans-serif" font-weight="bold" style="will-change:transform;text-rendering:geometricPrecision">
<text transform="translate(28.87 376.95) scale(0.8 1)" font-size="23.2">10</text>
<text transform="translate(67.60 537.50) scale(0.8 1)" font-size="23.2">9</text>
<text transform="translate(194.03 593.04) scale(0.8 1)" font-size="23.2">15</text>
<text transform="translate(452.31 490.95) scale(0.8 1)" font-size="23.2">17</text>
<text transform="translate(495.07 474.90) scale(0.8 1)" font-size="23.2">18</text>
<text transform="translate(401.87 634.55) scale(0.8 1)" font-size="23.2">19</text>
<text transform="translate(443.86 750.02) scale(0.8 1)" font-size="23.2">21</text>
<text transform="translate(483.20 761.25) scale(0.8 1)" font-size="23.2">20</text>
<text transform="translate(543.43 816.65) scale(0.8 1)" font-size="23.2">1</text>
<text transform="translate(872.02 404.92) scale(0.8 1)" font-size="23.2">12</text>
<text transform="translate(877.27 476.15) scale(0.8 1)" font-size="23.2">13</text>
<text transform="translate(873.29 504.75) scale(0.8 1)" font-size="23.2">14</text>
<text transform="translate(777.35 530.42) scale(0.8 1)" font-size="23.2">22</text>
<text transform="translate(950.34 543.95) scale(0.8 1)" font-size="23.2">11</text>
<text transform="translate(887.15 573.89) scale(0.8 1)" font-size="23.2">5</text>
<text transform="translate(916.15 594.00) scale(0.8 1)" font-size="23.2">8</text>
<text transform="translate(968.20 624.65) scale(0.8 1)" font-size="23.2">6</text>
<text transform="translate(895.20 677.65) scale(0.8 1)" font-size="23.2">7</text>
<text transform="translate(926.76 699.00) scale(0.8 1)" font-size="23.2">4</text>
<text transform="translate(885.59 853.00) scale(0.8 1)" font-size="23.2">3</text>
<text transform="translate(885.80 888.32) scale(0.8 1)" font-size="23.2">2</text>
<text transform="translate(880.12 925.80) scale(0.8 1)" font-size="23.2">16</text>
<text transform="translate(922.03 1208.85) scale(0.8 1)" font-size="23.2">12215</text>
</g>
<g stroke="none">
<rect transform="translate(28.87 376.95) scale(0.8 1)" x="0.46" y="-4.64" width="4.86" height="6.26" fill="#fff"/>
<rect transform="translate(28.87 376.95) scale(0.8 1)" x="8.69" y="-4.64" width="3.95" height="6.26" fill="#fff"/>
<rect transform="translate(194.03 593.04) scale(0.8 1)" x="0.46" y="-4.64" width="4.86" height="6.26" fill="#fff"/>
<rect transform="translate(194.03 593.04) scale(0.8 1)" x="8.69" y="-4.64" width="3.95" height="6.26" fill="#fff"/>
<rect transform="translate(452.31 490.95) scale(0.8 1)" x="0.46" y="-4.64" width="4.86" height="6.26" fill="#fff"/>
<rect transform="translate(452.31 490.95) scale(0.8 1)" x="8.69" y="-4.64" width="3.95" height="6.26" fill="#fff"/>
<rect transform="translate(495.07 474.90) scale(0.8 1)" x="0.46" y="-4.64" width="4.86" height="6.26" fill="#fff"/>
<rect transform="translate(495.07 474.90) scale(0.8 1)" x="8.69" y="-4.64" width="3.95" height="6.26" fill="#fff"/>
<rect transform="translate(401.87 634.55) scale(0.8 1)" x="0.46" y="-4.64" width="4.86" height="6.26" fill="#fff"/>
<rect transform="translate(401.87 634.55) scale(0.8 1)" x="8.69" y="-4.64" width="3.95" height="6.26" fill="#fff"/>
<rect transform="translate(443.86 750.02) scale(0.8 1)" x="13.37" y="-4.64" width="4.86" height="6.26" fill="#fff"/>
<rect transform="translate(443.86 750.02) scale(0.8 1)" x="21.59" y="-4.64" width="3.95" height="6.26" fill="#fff"/>
<rect transform="translate(543.43 816.65) scale(0.8 1)" x="0.46" y="-4.64" width="4.86" height="6.26" fill="#fff"/>
<rect transform="translate(543.43 816.65) scale(0.8 1)" x="8.69" y="-4.64" width="3.95" height="6.26" fill="#fff"/>
<rect transform="translate(872.02 404.92) scale(0.8 1)" x="0.46" y="-4.64" width="4.86" height="6.26" fill="#fff"/>
<rect transform="translate(872.02 404.92) scale(0.8 1)" x="8.69" y="-4.64" width="3.95" height="6.26" fill="#fff"/>
<rect transform="translate(877.27 476.15) scale(0.8 1)" x="0.46" y="-4.64" width="4.86" height="6.26" fill="#fff"/>
<rect transform="translate(877.27 476.15) scale(0.8 1)" x="8.69" y="-4.64" width="3.95" height="6.26" fill="#fff"/>
<rect transform="translate(873.29 504.75) scale(0.8 1)" x="0.46" y="-4.64" width="4.86" height="6.26" fill="#fff"/>
<rect transform="translate(873.29 504.75) scale(0.8 1)" x="8.69" y="-4.64" width="3.95" height="6.26" fill="#fff"/>
<rect transform="translate(950.34 543.95) scale(0.8 1)" x="0.46" y="-4.64" width="4.86" height="6.26" fill="#fff"/>
<rect transform="translate(950.34 543.95) scale(0.8 1)" x="8.69" y="-4.64" width="3.95" height="6.26" fill="#fff"/>
<rect transform="translate(950.34 543.95) scale(0.8 1)" x="12.09" y="-4.64" width="4.86" height="6.26" fill="#fff"/>
<rect transform="translate(950.34 543.95) scale(0.8 1)" x="20.31" y="-4.64" width="3.95" height="6.26" fill="#fff"/>
<rect transform="translate(880.12 925.80) scale(0.8 1)" x="0.46" y="-4.64" width="4.86" height="6.26" fill="#fff"/>
<rect transform="translate(880.12 925.80) scale(0.8 1)" x="8.69" y="-4.64" width="3.95" height="6.26" fill="#fff"/>
<rect transform="translate(922.03 1208.85) scale(0.8 1)" x="0.46" y="-4.64" width="4.86" height="6.26" fill="#fff"/>
<rect transform="translate(922.03 1208.85) scale(0.8 1)" x="8.69" y="-4.64" width="3.95" height="6.26" fill="#fff"/>
<rect transform="translate(922.03 1208.85) scale(0.8 1)" x="39.17" y="-4.64" width="4.86" height="6.26" fill="#fff"/>
<rect transform="translate(922.03 1208.85) scale(0.8 1)" x="47.40" y="-4.64" width="3.95" height="6.26" fill="#fff"/>
</g>
<g stroke="#111" fill="none">
<line x1="36.1" y1="382.9" x2="31.6" y2="404.6" stroke-width="1.1" />
<line x1="77.4" y1="519.2" x2="85.9" y2="499.4" stroke-width="1.1" />
<line x1="217.9" y1="577" x2="243.7" y2="563.6" stroke-width="1.1" />
<line x1="455.4" y1="497" x2="437.6" y2="519.2" stroke-width="1.1" />
<line x1="510" y1="478.7" x2="514" y2="504.8" stroke-width="1.1" />
<line x1="425.8" y1="619.9" x2="446.5" y2="611" stroke-width="1.1" />
<line x1="463.8" y1="726.5" x2="473.5" y2="710.2" stroke-width="1.1" />
<line x1="494.9" y1="739.5" x2="498.4" y2="722.6" stroke-width="1.1" />
<line x1="555.2" y1="805.4" x2="608" y2="780.2" stroke-width="1.1" />
<line x1="845.4" y1="403.7" x2="869.8" y2="400.7" stroke-width="1.1" />
<line x1="851.7" y1="474.1" x2="876.7" y2="470" stroke-width="1.1" />
<line x1="849.5" y1="499.5" x2="872.2" y2="498.4" stroke-width="1.1" />
<line x1="801.8" y1="528.6" x2="826.8" y2="525.6" stroke-width="1.1" />
<line x1="801.8" y1="528.6" x2="828.6" y2="542.2" stroke-width="1.1" />
<line x1="924.4" y1="541" x2="949.4" y2="538.1" stroke-width="1.1" />
<line x1="892.7" y1="580" x2="892" y2="596" stroke-width="1.1" />
<line x1="922.7" y1="598.7" x2="926.7" y2="615.3" stroke-width="1.1" />
<line x1="968" y1="625.3" x2="957.3" y2="633.3" stroke-width="1.1" />
<line x1="900" y1="658.7" x2="902" y2="642.7" stroke-width="1.1" />
<line x1="932.7" y1="679.3" x2="931.3" y2="659.3" stroke-width="1.1" />
<line x1="853.2" y1="838.5" x2="881.3" y2="842.9" stroke-width="1.1" />
<line x1="856.1" y1="876.1" x2="882.8" y2="879.9" stroke-width="1.1" />
<line x1="848.7" y1="912.5" x2="878.4" y2="916" stroke-width="1.1" />
</g>
</svg>
</body></html>
